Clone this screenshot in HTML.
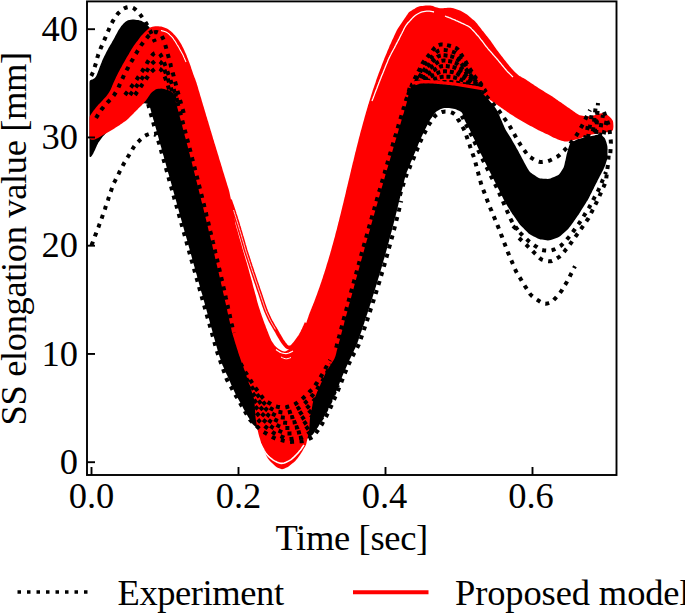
<!DOCTYPE html>
<html><head><meta charset="utf-8"><style>
html,body{margin:0;padding:0;background:#fff;}
body{width:685px;height:613px;overflow:hidden;}
svg{display:block;}
text{font-family:"Liberation Serif",serif;fill:#000;}
</style></head><body>
<svg width="685" height="613" viewBox="0 0 685 613">
<defs><clipPath id="pc"><rect x="87" y="1.4" width="529.5" height="473.6"/></clipPath></defs>
<g clip-path="url(#pc)">
<path d="M90.0,80.5L91.1,79.8 92.4,79.4 93.7,78.8 94.8,77.9 95.8,76.8 96.5,75.5 97.1,74.1 97.6,72.7 98.1,71.3 98.7,69.9 99.2,68.5 99.7,67.1 100.3,65.7 100.8,64.3 101.4,62.9 101.9,61.5 102.5,60.1 103.1,58.8 103.7,57.4 104.4,56.1 105.1,54.7 105.7,53.4 106.4,52.0 107.1,50.7 107.8,49.4 108.5,48.1 109.3,46.8 110.0,45.5 110.8,44.2 111.6,42.9 112.3,41.6 113.1,40.3 113.8,39.0 114.5,37.7 115.2,36.3 115.9,35.0 116.6,33.7 117.3,32.4 118.0,31.1 118.8,29.8 119.7,28.5 120.5,27.3 121.3,26.1 122.3,24.9 123.3,23.8 124.4,22.8 125.5,21.8 126.7,20.9 128.0,20.3 129.4,19.9 130.9,19.7 132.4,19.6 133.9,19.6 135.4,19.7 136.9,19.9 138.3,20.1 139.8,20.4 141.2,20.8 142.5,21.5 143.8,22.2 145.1,23.0 146.2,23.9 147.3,25.0 148.3,26.1 149.3,27.2 150.3,28.3 151.2,29.5 152.0,30.8 152.7,32.1 153.4,33.4 154.1,34.8 154.8,36.1 155.5,37.4 156.2,38.7 156.9,40.1 157.6,41.4 158.2,42.8 158.8,44.2 159.3,45.6 159.8,47.0 160.3,48.4 160.8,49.8 161.3,51.2 161.8,52.6 162.3,54.0 162.8,55.5 163.3,56.9 163.8,58.3 164.3,59.7 164.8,61.1 165.3,62.5 165.8,63.9 166.3,65.4 166.8,66.8 167.4,68.2 167.9,69.6 168.5,71.0 169.1,72.3 169.7,73.7 170.3,75.1 170.9,76.4 171.5,77.8 172.2,79.2 172.8,80.5 173.4,81.9 174.0,83.3 174.6,84.6 175.3,86.0 175.9,87.4 176.5,88.7 177.1,90.1 177.7,91.5 178.3,92.8 178.9,94.2 179.5,95.6 180.0,97.0 180.6,98.4 181.1,99.8 181.7,101.2 182.3,102.6 182.8,104.0 183.4,105.4 183.9,106.8 184.4,108.2 184.9,109.6 185.3,111.1 185.7,112.5 186.0,114.0 186.4,115.4 186.8,116.9 187.2,118.3 187.6,119.8 188.0,121.2 188.4,122.7 188.7,124.1 189.1,125.6 189.5,127.0 189.9,128.5 190.3,129.9 190.7,131.4 191.0,132.8 191.4,134.3 191.8,135.7 192.2,137.2 192.6,138.6 192.9,140.1 193.3,141.5 193.7,143.0 194.1,144.4 194.5,145.9 194.8,147.3 195.2,148.8 195.6,150.2 196.0,151.7 196.3,153.1 196.7,154.6 197.1,156.0 197.5,157.5 197.8,158.9 198.2,160.4 198.6,161.9 199.0,163.3 199.3,164.8 199.7,166.2 200.1,167.7 200.5,169.1 200.8,170.6 201.2,172.0 201.6,173.5 201.9,174.9 202.3,176.4 202.7,177.8 203.0,179.3 203.4,180.8 203.8,182.2 204.1,183.7 204.5,185.1 204.9,186.6 205.2,188.0 205.6,189.5 206.0,190.9 206.3,192.4 206.7,193.9 207.0,195.3 207.4,196.8 207.8,198.2 208.1,199.7 208.5,201.1 208.9,202.6 209.2,204.1 209.6,205.5 209.9,207.0 210.3,208.4 210.6,209.9 211.0,211.3 211.4,212.8 211.7,214.2 212.1,215.7 212.4,217.2 212.8,218.6 213.1,220.1 213.5,221.5 213.8,223.0 214.2,224.5 214.6,225.9 214.9,227.4 215.3,228.8 215.6,230.3 216.0,231.7 216.3,233.2 216.7,234.7 217.0,236.1 217.4,237.6 217.7,239.0 218.1,240.5 218.4,242.0 218.8,243.4 219.1,244.9 219.5,246.3 219.8,247.8 220.1,249.3 220.5,250.7 220.8,252.2 221.2,253.6 221.5,255.1 221.9,256.6 222.2,258.0 222.6,259.5 222.9,260.9 223.2,262.4 223.6,263.9 223.9,265.3 224.3,266.8 224.6,268.3 224.9,269.7 225.3,271.2 225.6,272.6 226.0,274.1 226.3,275.6 226.6,277.0 227.0,278.5 227.3,279.9 227.6,281.4 228.0,282.9 228.3,284.3 228.6,285.8 229.0,287.3 229.3,288.7 229.6,290.2 230.0,291.7 230.3,293.1 230.6,294.6 231.0,296.0 231.3,297.5 231.6,299.0 232.0,300.4 232.3,301.9 232.6,303.4 232.9,304.8 233.3,306.3 233.6,307.8 233.9,309.2 234.2,310.7 234.6,312.1 234.9,313.6 235.2,315.1 235.5,316.5 235.9,318.0 236.2,319.5 236.5,320.9 236.8,322.4 237.2,323.9 237.5,325.3 237.8,326.8 238.1,328.3 238.4,329.7 238.8,331.2 239.1,332.7 239.5,334.1 240.0,335.5 240.4,337.0 240.9,338.4 241.3,339.8 241.8,341.2 242.3,342.7 242.8,344.1 243.4,345.4 244.1,346.8 244.8,348.1 245.6,349.3 246.4,350.6 247.1,351.9 247.9,353.2 248.7,354.5 249.5,355.8 250.2,357.1 251.0,358.3 251.8,359.6 252.6,360.9 253.3,362.2 254.1,363.5 255.0,364.7 256.0,365.8 257.1,366.8 258.2,367.8 259.3,368.8 260.5,369.7 261.6,370.7 262.7,371.7 263.9,372.7 265.0,373.7 266.1,374.7 267.3,375.6 268.4,376.6 269.6,377.5 270.9,378.2 272.3,378.8 273.7,379.4 275.1,379.9 276.5,380.4 277.9,381.0 279.3,381.5 280.7,382.0 282.1,382.5 283.5,383.0 284.9,383.5 286.3,383.6 287.7,383.3 289.1,382.8 290.5,382.3 291.9,381.8 293.3,381.3 294.7,380.7 296.1,380.2 297.5,379.7 298.9,379.1 300.3,378.6 301.7,378.0 302.9,377.1 304.1,376.2 305.2,375.2 306.4,374.3 307.5,373.3 308.6,372.3 309.8,371.3 310.9,370.4 312.1,369.4 313.2,368.4 314.3,367.4 315.4,366.4 316.4,365.3 317.2,364.0 318.0,362.8 318.8,361.5 319.6,360.2 320.4,359.0 321.2,357.7 322.0,356.4 322.8,355.1 323.6,353.9 324.4,352.6 325.2,351.3 325.9,350.0 326.6,348.7 327.3,347.4 327.9,346.0 328.6,344.6 329.2,343.3 329.7,341.9 330.1,340.4 330.5,339.0 330.8,337.5 331.2,336.1 331.6,334.6 332.0,333.2 332.4,331.7 332.8,330.3 333.2,328.8 333.6,327.4 333.9,325.9 334.3,324.5 334.7,323.0 335.1,321.6 335.5,320.1 335.9,318.7 336.3,317.2 336.7,315.8 337.0,314.3 337.4,312.9 337.8,311.4 338.2,310.0 338.6,308.5 339.0,307.1 339.4,305.6 339.8,304.2 340.2,302.7 340.6,301.3 341.0,299.8 341.4,298.4 341.7,296.9 342.1,295.5 342.5,294.1 342.9,292.6 343.3,291.2 343.7,289.7 344.1,288.3 344.5,286.8 344.9,285.4 345.3,283.9 345.7,282.5 346.1,281.0 346.5,279.6 346.9,278.1 347.3,276.7 347.7,275.2 348.1,273.8 348.5,272.3 348.9,270.9 349.3,269.5 349.7,268.0 350.1,266.6 350.5,265.1 350.9,263.7 351.3,262.2 351.7,260.8 352.1,259.3 352.5,257.9 352.9,256.4 353.3,255.0 353.7,253.5 354.1,252.1 354.5,250.7 354.9,249.2 355.3,247.8 355.7,246.3 356.1,244.9 356.5,243.4 356.9,242.0 357.3,240.5 357.7,239.1 358.1,237.6 358.5,236.2 358.9,234.8 359.3,233.3 359.7,231.9 360.1,230.4 360.6,229.0 361.0,227.5 361.4,226.1 361.8,224.6 362.2,223.2 362.6,221.8 363.0,220.3 363.4,218.9 363.8,217.4 364.2,216.0 364.6,214.5 365.0,213.1 365.5,211.7 365.9,210.2 366.3,208.8 366.7,207.3 367.1,205.9 367.5,204.4 367.9,203.0 368.3,201.6 368.7,200.1 369.2,198.7 369.6,197.2 370.0,195.8 370.4,194.3 370.8,192.9 371.2,191.5 371.6,190.0 372.1,188.6 372.5,187.1 372.9,185.7 373.3,184.2 373.7,182.8 374.1,181.4 374.5,179.9 375.0,178.5 375.4,177.0 375.8,175.6 376.2,174.2 376.6,172.7 377.1,171.3 377.5,169.8 377.9,168.4 378.3,167.0 378.7,165.5 379.1,164.1 379.6,162.6 380.0,161.2 380.4,159.7 380.8,158.3 381.2,156.9 381.7,155.4 382.1,154.0 382.5,152.5 382.9,151.1 383.4,149.7 383.8,148.2 384.2,146.8 384.6,145.3 385.0,143.9 385.5,142.5 385.9,141.0 386.3,139.6 386.7,138.2 387.2,136.7 387.6,135.3 388.0,133.8 388.4,132.4 388.9,131.0 389.3,129.5 389.7,128.1 390.2,126.6 390.6,125.2 391.0,123.8 391.4,122.3 391.9,120.9 392.3,119.4 392.7,118.0 393.1,116.6 393.6,115.1 394.0,113.7 394.4,112.3 394.9,110.8 395.3,109.4 395.7,107.9 396.2,106.5 396.6,105.1 397.0,103.6 397.4,102.2 397.9,100.8 398.3,99.3 398.7,97.9 399.2,96.5 399.6,95.0 400.0,93.6 400.5,92.1 400.9,90.7 401.4,89.3 401.9,87.9 402.5,86.5 403.2,85.2 403.9,83.9 404.6,82.6 405.4,81.3 406.4,80.3 407.6,79.8 409.1,79.5 410.5,79.2 412.0,78.9 413.5,78.6 414.8,78.2 415.8,77.3 416.5,76.1 417.0,74.8 417.5,73.4 418.1,72.0 418.6,70.6 419.1,69.1 419.6,67.7 420.1,66.3 420.7,64.9 421.2,63.5 421.8,62.2 422.4,60.8 423.0,59.4 423.6,58.0 424.2,56.7 424.8,55.3 425.5,53.9 426.2,52.6 427.1,51.5 428.1,50.4 429.1,49.3 430.2,48.3 431.3,47.3 432.6,46.5 433.9,46.0 435.4,45.5 436.8,45.1 438.2,44.8 439.7,44.7 441.1,44.9 442.6,45.2 444.1,45.6 445.5,45.9 447.0,46.3 448.3,46.8 449.7,47.5 451.0,48.3 452.2,49.0 453.5,49.8 454.8,50.6 456.1,51.4 457.3,52.3 458.3,53.3 459.2,54.5 460.1,55.7 461.0,56.9 461.9,58.1 462.8,59.3 463.7,60.5 464.6,61.7 465.5,62.9 466.3,64.2 467.2,65.4 467.9,66.7 468.7,68.0 469.4,69.3 470.1,70.6 470.8,72.0 471.6,73.3 472.3,74.6 473.0,75.9 473.7,77.2 474.4,78.5 475.2,79.8 475.9,81.2 476.6,82.5 477.4,83.8 478.1,85.1 478.8,86.4 479.6,87.7 480.3,89.0 481.1,90.3 481.9,91.6 482.7,92.8 483.7,93.9 484.6,95.1 485.6,96.2 486.6,97.4 487.6,98.5 488.6,99.6 489.5,100.8 490.5,101.9 491.5,103.1 492.5,104.2 493.4,105.4 494.4,106.5 495.3,107.7 496.2,108.9 496.9,110.2 497.6,111.5 498.2,112.9 498.8,114.3 499.4,115.6 500.0,117.0 500.6,118.4 501.2,119.8 501.8,121.1 502.4,122.5 503.0,123.9 503.6,125.3 504.2,126.7 504.8,128.0 505.5,129.4 506.2,130.7 507.0,131.9 507.8,133.2 508.6,134.5 509.4,135.8 510.2,137.0 511.0,138.3 511.7,139.6 512.5,140.9 513.2,142.2 514.0,143.5 514.7,144.8 515.5,146.1 516.2,147.4 516.9,148.7 517.7,150.0 518.4,151.3 519.1,152.7 519.8,154.0 520.5,155.3 521.2,156.6 521.9,158.0 522.6,159.3 523.3,160.6 524.0,162.0 524.7,163.3 525.4,164.6 526.2,165.9 526.9,167.2 527.6,168.5 528.4,169.8 529.2,171.1 530.2,172.2 531.3,173.1 532.5,173.9 533.8,174.8 535.0,175.6 536.3,176.4 537.5,177.2 538.8,177.9 540.2,178.4 541.7,178.6 543.1,178.7 544.6,178.8 546.1,178.8 547.6,178.9 549.1,178.8 550.5,178.4 551.9,177.8 553.3,177.3 554.7,176.7 556.1,176.1 557.4,175.5 558.7,174.8 559.6,173.7 560.5,172.5 561.3,171.2 562.1,170.0 562.9,168.7 563.6,167.4 564.1,166.0 564.5,164.6 564.8,163.1 565.1,161.6 565.5,160.2 565.8,158.7 566.1,157.2 566.4,155.8 566.7,154.3 567.1,152.9 567.5,151.4 567.9,150.0 568.3,148.5 568.8,147.1 569.2,145.7 569.7,144.3 570.5,143.1 571.6,142.3 572.9,141.6 574.2,140.9 575.6,140.2 576.9,139.6 578.3,139.1 579.8,138.7 581.2,138.3 582.7,138.0 584.2,137.7 585.6,137.4 587.1,137.1 588.6,136.8 590.0,136.5 591.5,136.1 592.9,135.8 594.4,135.4 595.8,135.0 597.3,134.7 598.7,134.5 600.1,134.6 601.3,135.1 602.5,136.0 603.6,137.0 604.6,138.1 605.3,139.3 605.8,140.7 606.3,142.1 606.7,143.6 607.1,145.0 607.4,146.5 607.5,147.9 607.5,149.4 607.5,150.9 607.5,152.4 607.5,153.9 607.5,155.4 607.4,156.9 607.2,158.4 606.9,159.9 606.5,161.3 606.0,162.7 605.6,164.2 605.1,165.6 604.5,167.0 603.9,168.3 603.3,169.7 602.6,171.0 601.9,172.3 601.2,173.7 600.5,175.0 599.8,176.3 599.1,177.7 598.4,179.0 597.7,180.3 597.1,181.7 596.4,183.0 595.7,184.3 595.0,185.7 594.3,187.0 593.7,188.4 593.0,189.7 592.3,191.0 591.7,192.4 591.0,193.7 590.3,195.1 589.6,196.4 589.0,197.8 588.3,199.1 587.5,200.4 586.7,201.6 585.9,202.9 585.1,204.2 584.3,205.5 583.5,206.7 582.7,208.0 581.9,209.3 581.1,210.6 580.4,211.8 579.6,213.1 578.7,214.4 577.9,215.6 577.0,216.8 576.2,218.1 575.3,219.3 574.4,220.5 573.6,221.7 572.7,222.9 571.8,224.2 570.9,225.4 570.1,226.6 569.1,227.8 568.2,228.9 567.1,229.9 566.0,230.9 564.9,231.9 563.7,233.0 562.6,234.0 561.5,235.0 560.4,235.9 559.2,236.8 557.9,237.5 556.5,238.1 555.1,238.6 553.7,239.1 552.3,239.5 550.8,240.0 549.4,240.3 547.9,240.4 546.5,240.2 545.0,240.0 543.5,239.8 542.0,239.6 540.5,239.4 539.1,239.0 537.7,238.4 536.4,237.8 535.0,237.1 533.7,236.4 532.4,235.8 531.0,235.1 529.8,234.3 528.6,233.4 527.5,232.3 526.5,231.3 525.4,230.2 524.4,229.2 523.3,228.1 522.2,227.0 521.2,226.0 520.2,224.9 519.2,223.7 518.3,222.5 517.5,221.3 516.6,220.0 515.8,218.8 514.9,217.6 514.0,216.3 513.2,215.1 512.3,213.9 511.5,212.6 510.7,211.4 509.9,210.1 509.1,208.8 508.3,207.5 507.5,206.3 506.8,205.0 506.0,203.7 505.2,202.4 504.5,201.1 503.8,199.7 503.2,198.4 502.5,197.1 501.8,195.7 501.2,194.4 500.5,193.0 499.8,191.7 499.2,190.3 498.5,189.0 497.8,187.7 497.1,186.3 496.5,185.0 495.8,183.6 495.1,182.3 494.4,181.0 493.8,179.6 493.1,178.3 492.4,176.9 491.7,175.6 491.1,174.3 490.4,172.9 489.7,171.6 489.0,170.2 488.4,168.9 487.7,167.6 487.0,166.2 486.4,164.9 485.7,163.5 485.0,162.2 484.4,160.8 483.7,159.5 483.0,158.1 482.4,156.8 481.7,155.4 481.0,154.1 480.4,152.8 479.7,151.4 479.1,150.1 478.5,148.7 477.8,147.3 477.2,146.0 476.6,144.6 476.0,143.2 475.4,141.8 474.8,140.5 474.2,139.1 473.5,137.7 472.9,136.4 472.3,135.0 471.7,133.6 471.0,132.3 470.3,131.0 469.6,129.6 468.9,128.3 468.2,127.0 467.5,125.7 466.8,124.3 466.1,123.0 465.4,121.7 464.7,120.3 464.1,119.0 463.6,117.6 463.2,116.1 462.8,114.7 462.3,113.3 461.5,112.2 460.4,111.4 459.1,110.7 457.7,110.2 456.3,109.6 454.9,109.1 453.4,108.8 452.0,108.5 450.5,108.3 449.0,108.1 447.5,108.0 446.0,108.0 444.5,108.0 443.1,108.2 441.7,108.7 440.3,109.3 439.0,110.0 437.7,110.7 436.4,111.5 435.4,112.5 434.5,113.7 433.6,114.9 432.7,116.2 431.9,117.4 431.0,118.6 430.2,119.8 429.4,121.1 428.6,122.4 427.9,123.7 427.3,125.1 426.6,126.4 426.0,127.8 425.3,129.1 424.6,130.5 424.0,131.8 423.3,133.2 422.7,134.5 422.0,135.9 421.4,137.2 420.8,138.6 420.2,140.0 419.6,141.4 419.0,142.8 418.4,144.1 417.9,145.5 417.3,146.9 416.7,148.3 416.1,149.7 415.6,151.1 415.0,152.4 414.4,153.8 413.8,155.2 413.2,156.6 412.7,158.0 412.1,159.4 411.5,160.8 410.9,162.1 410.4,163.5 409.8,164.9 409.2,166.3 408.6,167.7 408.1,169.1 407.5,170.5 406.9,171.8 406.4,173.2 405.9,174.7 405.5,176.1 405.1,177.5 404.7,179.0 404.3,180.5 404.0,181.9 403.6,183.4 403.2,184.8 402.9,186.3 402.5,187.7 402.1,189.2 401.7,190.6 401.4,192.1 401.0,193.5 400.6,195.0 400.3,196.4 399.9,197.9 399.6,199.4 399.2,200.8 398.9,202.3 398.5,203.7 398.2,205.2 397.8,206.7 397.5,208.1 397.1,209.6 396.8,211.0 396.4,212.5 396.0,213.9 395.7,215.4 395.3,216.9 394.9,218.3 394.6,219.8 394.2,221.2 393.8,222.7 393.5,224.1 393.1,225.6 392.7,227.0 392.3,228.5 391.9,229.9 391.6,231.4 391.2,232.8 390.8,234.3 390.4,235.7 390.0,237.2 389.6,238.6 389.3,240.1 388.9,241.5 388.5,243.0 388.1,244.4 387.7,245.9 387.3,247.3 386.9,248.8 386.5,250.2 386.1,251.7 385.7,253.1 385.3,254.6 384.9,256.0 384.5,257.4 384.0,258.9 383.6,260.3 383.2,261.8 382.8,263.2 382.4,264.7 382.0,266.1 381.6,267.5 381.1,269.0 380.7,270.4 380.3,271.9 379.9,273.3 379.4,274.7 379.0,276.2 378.6,277.6 378.1,279.0 377.7,280.5 377.3,281.9 376.9,283.4 376.4,284.8 376.0,286.2 375.5,287.7 375.1,289.1 374.7,290.5 374.2,292.0 373.8,293.4 373.3,294.8 372.9,296.3 372.4,297.7 372.0,299.1 371.5,300.6 371.1,302.0 370.6,303.4 370.1,304.8 369.7,306.3 369.2,307.7 368.8,309.1 368.3,310.6 367.8,312.0 367.4,313.4 366.9,314.8 366.4,316.3 366.0,317.7 365.5,319.1 365.0,320.5 364.5,322.0 364.1,323.4 363.6,324.8 363.1,326.2 362.6,327.6 362.2,329.1 361.7,330.5 361.2,331.9 360.7,333.3 360.2,334.7 359.7,336.2 359.2,337.6 358.7,339.0 358.3,340.4 357.8,341.8 357.3,343.3 356.7,344.7 356.2,346.0 355.5,347.4 354.9,348.8 354.2,350.1 353.6,351.5 352.9,352.8 352.3,354.2 351.7,355.5 351.0,356.9 350.4,358.2 349.7,359.6 349.1,361.0 348.5,362.3 347.9,363.7 347.2,365.1 346.6,366.4 346.0,367.8 345.4,369.2 344.8,370.5 344.2,371.9 343.6,373.3 343.0,374.7 342.4,376.1 341.9,377.4 341.3,378.8 340.8,380.2 340.2,381.6 339.6,383.0 339.1,384.4 338.5,385.8 337.9,387.2 337.4,388.6 336.8,390.0 336.2,391.4 335.7,392.7 335.0,394.1 334.4,395.5 333.8,396.8 333.2,398.2 332.6,399.6 332.0,400.9 331.3,402.3 330.7,403.7 330.1,405.0 329.5,406.4 328.8,407.8 328.2,409.1 327.5,410.4 326.8,411.8 326.0,413.1 325.3,414.4 324.6,415.7 323.9,417.0 323.1,418.3 322.4,419.6 321.7,420.9 321.0,422.3 320.2,423.6 319.4,424.8 318.6,426.1 317.8,427.3 316.9,428.6 316.1,429.8 315.3,431.1 314.4,432.3 313.6,433.5 312.6,434.7 311.5,435.6 310.3,436.5 309.0,437.3 307.8,438.2 306.5,439.0 305.2,439.7 303.8,440.2 302.4,440.5 300.9,440.8 299.4,441.1 298.0,441.4 296.5,441.7 295.0,441.9 293.5,442.0 292.0,442.0 290.5,442.0 289.0,442.0 287.5,442.0 286.0,442.0 284.5,441.8 283.1,441.6 281.6,441.3 280.1,441.0 278.6,440.7 277.2,440.4 275.7,440.0 274.4,439.5 273.1,438.8 271.8,438.1 270.5,437.3 269.2,436.5 267.9,435.7 266.6,435.0 265.3,434.2 264.1,433.3 262.9,432.5 261.6,431.6 260.4,430.7 259.2,429.9 258.0,428.9 256.9,428.0 255.7,427.0 254.6,426.0 253.5,425.0 252.5,423.9 251.7,422.7 250.9,421.4 250.1,420.1 249.3,418.8 248.5,417.6 247.8,416.3 247.0,415.0 246.3,413.7 245.6,412.4 244.8,411.0 244.1,409.7 243.4,408.4 242.7,407.1 242.0,405.8 241.2,404.4 240.5,403.1 239.8,401.8 239.1,400.5 238.4,399.2 237.7,397.9 236.9,396.5 236.2,395.2 235.5,393.9 234.8,392.6 234.2,391.2 233.6,389.8 233.0,388.5 232.4,387.1 231.8,385.7 231.1,384.4 230.5,383.0 229.9,381.6 229.3,380.2 228.7,378.9 228.1,377.5 227.5,376.1 226.8,374.8 226.2,373.4 225.6,372.0 225.0,370.7 224.4,369.3 223.8,367.9 223.2,366.6 222.5,365.2 222.0,363.8 221.5,362.4 221.0,361.0 220.5,359.6 220.0,358.1 219.5,356.7 219.1,355.3 218.7,353.8 218.3,352.4 217.8,351.0 217.4,349.5 217.0,348.1 216.6,346.6 216.2,345.2 215.8,343.7 215.4,342.3 215.0,340.8 214.6,339.4 214.2,337.9 213.8,336.5 213.4,335.1 213.0,333.6 212.6,332.2 212.2,330.7 211.8,329.3 211.4,327.8 211.0,326.4 210.6,324.9 210.2,323.5 209.8,322.0 209.4,320.6 209.0,319.1 208.6,317.7 208.2,316.3 207.8,314.8 207.4,313.4 207.0,311.9 206.6,310.5 206.2,309.0 205.8,307.6 205.4,306.1 205.0,304.7 204.6,303.2 204.2,301.8 203.8,300.4 203.4,298.9 203.0,297.5 202.6,296.0 202.2,294.6 201.7,293.1 201.3,291.7 200.9,290.2 200.5,288.8 200.1,287.3 199.7,285.9 199.3,284.5 198.9,283.0 198.5,281.6 198.1,280.1 197.7,278.7 197.3,277.2 196.9,275.8 196.5,274.3 196.1,272.9 195.7,271.4 195.3,270.0 194.9,268.6 194.5,267.1 194.1,265.7 193.7,264.2 193.3,262.8 192.9,261.3 192.5,259.9 192.1,258.4 191.7,257.0 191.3,255.5 190.9,254.1 190.5,252.7 190.1,251.2 189.7,249.8 189.3,248.3 188.9,246.9 188.5,245.4 188.1,244.0 187.7,242.5 187.3,241.1 186.9,239.6 186.5,238.2 186.1,236.8 185.6,235.3 185.2,233.9 184.8,232.4 184.4,231.0 184.0,229.5 183.6,228.1 183.2,226.6 182.8,225.2 182.4,223.7 182.0,222.3 181.6,220.9 181.2,219.4 180.8,218.0 180.4,216.5 180.0,215.1 179.6,213.6 179.2,212.2 178.8,210.7 178.4,209.3 178.0,207.8 177.6,206.4 177.2,205.0 176.8,203.5 176.4,202.1 176.0,200.6 175.6,199.2 175.2,197.7 174.8,196.3 174.4,194.8 174.0,193.4 173.6,191.9 173.2,190.5 172.8,189.1 172.4,187.6 172.0,186.2 171.6,184.7 171.2,183.3 170.8,181.8 170.4,180.4 170.0,178.9 169.5,177.5 169.1,176.0 168.7,174.6 168.3,173.2 167.9,171.7 167.5,170.3 167.1,168.8 166.7,167.4 166.3,165.9 165.9,164.5 165.5,163.0 165.1,161.6 164.7,160.1 164.3,158.7 163.9,157.3 163.5,155.8 163.1,154.4 162.7,152.9 162.3,151.5 161.9,150.0 161.5,148.6 161.1,147.1 160.7,145.7 160.3,144.2 159.9,142.8 159.5,141.4 159.1,139.9 158.7,138.5 158.3,137.0 157.9,135.6 157.5,134.1 157.1,132.7 156.7,131.2 156.3,129.8 155.9,128.3 155.5,126.9 155.1,125.5 154.7,124.0 154.3,122.6 153.9,121.1 153.4,119.7 153.0,118.2 152.6,116.8 152.2,115.3 151.8,113.9 151.4,112.4 151.0,111.0 150.6,109.6 150.2,108.1 149.8,106.7 149.3,105.4 148.5,104.3 147.3,103.8 145.9,103.5 144.4,103.3 143.0,103.4 141.7,103.9 140.4,104.6 139.1,105.4 137.9,106.2 136.6,107.0 135.3,107.9 134.1,108.7 132.9,109.7 131.8,110.6 130.6,111.5 129.4,112.5 128.3,113.4 127.1,114.3 125.9,115.3 124.7,116.2 123.6,117.1 122.4,118.1 121.2,119.0 120.1,120.0 118.9,120.9 117.7,121.8 116.5,122.8 115.4,123.7 114.3,124.8 113.2,125.8 112.1,126.9 111.1,127.9 110.0,129.0 109.0,130.0 107.9,131.1 106.9,132.2 105.8,133.3 104.8,134.4 103.8,135.5 102.8,136.6 101.9,137.8 101.0,139.0 100.1,140.2 99.2,141.4 98.4,142.6 97.7,143.9 97.0,145.3 96.4,146.7 95.8,148.1 95.2,149.4 94.6,150.8 93.9,152.1 93.3,153.5 92.5,154.8 91.7,156.0 90.7,156.9 89.9,157.1 89.6,156.4 89.5,155.0 89.5,153.5 89.5,152.0 89.5,150.5 89.5,149.0 89.5,147.5 89.5,146.0 89.5,144.5 89.5,143.0 89.5,141.5 89.5,140.0 89.5,138.5 89.5,137.0 89.5,135.5 89.5,134.0 89.5,132.5 89.5,131.0 89.5,129.5 89.5,128.0 89.5,126.5 89.5,125.0 89.5,123.5 89.5,122.0 89.5,120.5 89.5,119.0 89.5,117.5 89.5,116.0 89.5,114.5 89.5,113.0 89.5,111.5 89.5,110.0 89.5,108.5 89.5,107.0 89.5,105.5 89.5,104.0 89.5,102.5 89.5,101.0 89.5,99.5 89.5,98.0 89.5,96.5 89.5,95.0 89.5,93.5 89.5,92.0 89.5,90.5 89.5,89.0 89.5,87.5 89.5,86.0 89.5,84.5 89.5,83.0 89.6,81.6Z" fill="#000"/>
<path d="M89.7,116.6L90.4,115.3 91.2,114.0 92.1,112.8 92.9,111.6 93.8,110.3 94.7,109.2 95.6,108.0 96.6,106.8 97.5,105.7 98.5,104.5 99.6,103.4 100.6,102.4 101.7,101.3 102.7,100.2 103.7,99.1 104.7,98.0 105.7,96.9 106.7,95.8 107.6,94.6 108.5,93.3 109.3,92.1 110.0,90.8 110.7,89.4 111.3,88.1 111.9,86.7 112.4,85.3 113.0,83.9 113.6,82.5 114.2,81.2 114.9,79.8 115.5,78.4 116.1,77.1 116.8,75.7 117.4,74.4 118.1,73.0 118.8,71.7 119.5,70.4 120.2,69.1 121.0,67.8 121.7,66.4 122.4,65.1 123.1,63.8 123.9,62.5 124.6,61.2 125.3,59.9 126.1,58.6 126.8,57.3 127.6,56.0 128.4,54.7 129.1,53.4 129.9,52.1 130.7,50.8 131.4,49.5 132.2,48.3 133.0,47.0 133.8,45.7 134.7,44.5 135.6,43.3 136.5,42.1 137.4,40.9 138.3,39.7 139.2,38.5 140.1,37.3 141.0,36.1 142.0,35.0 143.0,33.9 144.1,32.8 145.1,31.8 146.2,30.7 147.3,29.7 148.4,28.7 149.6,27.8 150.9,27.2 152.4,26.8 153.8,26.5 155.3,26.3 156.8,26.3 158.3,26.3 159.8,26.4 161.3,26.6 162.7,26.9 164.2,27.4 165.5,27.9 166.9,28.6 168.2,29.3 169.4,30.2 170.6,31.1 171.7,32.1 172.8,33.1 173.8,34.2 174.9,35.3 175.9,36.4 176.8,37.6 177.7,38.8 178.6,40.0 179.4,41.2 180.2,42.5 181.0,43.8 181.7,45.1 182.4,46.5 183.1,47.8 183.7,49.1 184.4,50.5 185.0,51.9 185.6,53.2 186.2,54.6 186.8,56.0 187.3,57.4 187.9,58.8 188.4,60.2 188.9,61.6 189.5,63.0 190.0,64.4 190.5,65.8 191.0,67.2 191.4,68.7 191.9,70.1 192.4,71.5 192.9,72.9 193.3,74.3 193.9,75.8 194.4,77.2 195.0,78.6 195.5,80.0 196.0,81.4 196.5,82.8 196.9,84.2 197.4,85.7 197.8,87.1 198.2,88.5 198.6,90.0 199.1,91.4 199.5,92.8 199.9,94.3 200.3,95.7 200.8,97.2 201.2,98.6 201.6,100.0 202.0,101.5 202.5,102.9 202.9,104.4 203.3,105.8 203.8,107.2 204.2,108.7 204.6,110.1 205.0,111.5 205.5,113.0 205.9,114.4 206.3,115.9 206.8,117.3 207.2,118.7 207.6,120.2 208.1,121.6 208.5,123.0 208.9,124.5 209.4,125.9 209.8,127.4 210.2,128.8 210.6,130.2 211.1,131.7 211.5,133.1 211.9,134.5 212.4,136.0 212.8,137.4 213.2,138.9 213.7,140.3 214.1,141.7 214.5,143.2 215.0,144.6 215.4,146.0 215.9,147.5 216.3,148.9 216.7,150.3 217.2,151.8 217.6,153.2 218.0,154.6 218.5,156.1 218.9,157.5 219.3,159.0 219.8,160.4 220.2,161.8 220.7,163.3 221.1,164.7 221.5,166.1 222.0,167.6 222.4,169.0 222.8,170.4 223.3,171.9 223.7,173.3 224.2,174.7 224.6,176.2 225.0,177.6 225.5,179.0 225.9,180.5 226.4,181.9 226.8,183.3 227.2,184.8 227.7,186.2 228.1,187.6 228.6,189.1 229.0,190.5 229.4,192.0 229.7,193.4 230.0,194.9 230.3,196.4 230.6,197.8 230.9,199.3 231.2,200.8 231.5,202.2 231.8,203.7 232.1,205.2 232.4,206.7 232.7,208.1 233.0,209.6 233.3,211.1 233.6,212.5 233.8,214.0 234.1,215.5 234.3,217.0 234.6,218.5 234.8,219.9 235.1,221.4 235.3,222.9 235.6,224.4 236.0,225.8 236.4,227.3 236.8,228.7 237.3,230.1 237.7,231.6 238.1,233.0 238.5,234.5 238.9,235.9 239.3,237.4 239.7,238.8 240.1,240.2 240.6,241.7 241.0,243.1 241.4,244.6 241.8,246.0 242.2,247.5 242.6,248.9 243.0,250.3 243.4,251.8 243.9,253.2 244.3,254.7 244.7,256.1 245.2,257.5 245.6,259.0 246.0,260.4 246.5,261.9 246.9,263.3 247.3,264.7 247.7,266.2 248.1,267.6 248.5,269.1 248.9,270.5 249.3,272.0 249.7,273.4 250.1,274.9 250.5,276.3 250.9,277.8 251.3,279.2 251.7,280.6 252.1,282.1 252.5,283.5 252.8,285.0 253.2,286.4 253.6,287.9 254.0,289.3 254.4,290.8 254.8,292.2 255.2,293.7 255.6,295.1 256.0,296.6 256.4,298.0 256.7,299.5 257.1,300.9 257.5,302.4 257.9,303.8 258.3,305.3 258.8,306.7 259.2,308.1 259.7,309.6 260.2,311.0 260.6,312.4 261.1,313.8 261.6,315.3 262.1,316.7 262.6,318.1 263.1,319.5 263.6,320.9 264.1,322.3 264.6,323.7 265.2,325.1 265.7,326.5 266.2,327.9 266.8,329.3 267.3,330.7 267.9,332.1 268.4,333.5 269.0,334.9 269.5,336.3 270.1,337.7 270.7,339.1 271.3,340.4 272.1,341.7 273.0,342.9 273.8,344.2 274.7,345.4 275.7,346.5 276.8,347.4 278.0,348.4 279.2,349.3 280.4,350.1 281.8,350.7 283.2,351.2 284.5,351.6 285.9,351.3 287.1,350.6 288.4,349.8 289.5,348.8 290.5,347.8 291.5,346.6 292.5,345.5 293.4,344.3 294.3,343.1 295.2,341.9 296.2,340.7 297.1,339.5 298.0,338.4 298.9,337.1 299.7,335.9 300.5,334.6 301.2,333.3 302.0,332.0 302.8,330.7 303.6,329.5 304.3,328.2 304.9,326.8 305.5,325.4 305.9,324.0 306.4,322.6 306.9,321.1 307.3,319.7 307.8,318.3 308.3,316.9 308.7,315.4 309.3,314.0 309.8,312.6 310.4,311.2 310.9,309.8 311.5,308.4 312.0,307.1 312.6,305.7 313.1,304.3 313.7,302.9 314.3,301.5 314.8,300.1 315.3,298.7 315.8,297.3 316.3,295.9 316.9,294.4 317.4,293.0 317.9,291.6 318.4,290.2 318.9,288.8 319.4,287.4 319.9,286.0 320.4,284.6 320.9,283.1 321.4,281.7 321.8,280.3 322.3,278.9 322.8,277.4 323.2,276.0 323.7,274.6 324.2,273.2 324.6,271.7 325.1,270.3 325.5,268.9 326.0,267.4 326.4,266.0 326.8,264.6 327.3,263.1 327.7,261.7 328.2,260.3 328.6,258.8 329.0,257.4 329.4,255.9 329.9,254.5 330.3,253.1 330.7,251.6 331.1,250.2 331.5,248.7 331.9,247.3 332.3,245.8 332.7,244.4 333.1,242.9 333.5,241.5 333.9,240.1 334.3,238.6 334.7,237.2 335.1,235.7 335.4,234.2 335.8,232.8 336.2,231.3 336.6,229.9 337.0,228.4 337.3,227.0 337.7,225.5 338.1,224.1 338.4,222.6 338.8,221.2 339.2,219.7 339.5,218.3 339.9,216.8 340.3,215.3 340.6,213.9 341.0,212.4 341.3,211.0 341.7,209.5 342.1,208.1 342.4,206.6 342.8,205.1 343.1,203.7 343.5,202.2 343.8,200.8 344.2,199.3 344.5,197.8 344.9,196.4 345.2,194.9 345.6,193.5 345.9,192.0 346.2,190.5 346.6,189.1 346.9,187.6 347.3,186.2 347.6,184.7 348.0,183.2 348.3,181.8 348.7,180.3 349.0,178.9 349.4,177.4 349.7,175.9 350.1,174.5 350.4,173.0 350.8,171.6 351.1,170.1 351.4,168.7 351.8,167.2 352.1,165.7 352.5,164.3 352.8,162.8 353.2,161.4 353.6,159.9 353.9,158.4 354.3,157.0 354.6,155.5 355.0,154.1 355.3,152.6 355.7,151.2 356.1,149.7 356.4,148.2 356.8,146.8 357.2,145.3 357.5,143.9 357.9,142.4 358.3,141.0 358.6,139.5 359.0,138.1 359.4,136.6 359.8,135.2 360.1,133.7 360.5,132.3 360.9,130.8 361.3,129.4 361.7,127.9 362.1,126.5 362.5,125.0 362.9,123.6 363.3,122.1 363.7,120.7 364.1,119.2 364.5,117.8 364.9,116.3 365.3,114.9 365.7,113.5 366.1,112.0 366.6,110.6 367.0,109.1 367.4,107.7 367.8,106.2 368.2,104.8 368.7,103.4 369.1,101.9 369.6,100.5 370.0,99.1 370.5,97.7 370.9,96.2 371.4,94.8 371.8,93.4 372.3,91.9 372.7,90.5 373.2,89.1 373.7,87.7 374.2,86.2 374.7,84.8 375.2,83.4 375.7,82.0 376.1,80.6 376.6,79.1 377.1,77.7 377.6,76.3 378.1,74.9 378.6,73.5 379.2,72.1 379.7,70.7 380.2,69.3 380.8,67.9 381.3,66.5 381.8,65.1 382.3,63.7 382.9,62.3 383.4,60.9 384.0,59.5 384.5,58.1 385.1,56.7 385.7,55.3 386.3,53.9 386.9,52.5 387.4,51.1 388.0,49.8 388.6,48.4 389.2,47.0 389.7,45.6 390.4,44.2 391.0,42.9 391.6,41.5 392.2,40.1 392.9,38.8 393.5,37.4 394.1,36.1 394.7,34.7 395.4,33.3 396.0,32.0 396.7,30.6 397.4,29.3 398.2,28.1 399.0,26.8 399.9,25.6 400.7,24.3 401.6,23.1 402.4,21.8 403.2,20.6 404.1,19.3 404.9,18.1 405.7,16.9 406.6,15.6 407.4,14.4 408.3,13.1 409.2,12.0 410.4,11.2 411.7,10.4 413.0,9.6 414.3,8.9 415.6,8.1 416.9,7.3 418.2,6.7 419.6,6.3 421.1,6.1 422.6,5.9 424.1,5.7 425.6,5.5 427.1,5.5 428.6,5.5 430.1,5.5 431.5,5.7 433.0,6.1 434.4,6.7 435.8,7.2 437.2,7.6 438.7,7.9 440.1,8.2 441.6,8.3 443.1,8.3 444.6,8.1 446.1,7.9 447.6,7.8 449.1,7.8 450.6,7.8 452.1,7.9 453.5,8.2 454.9,8.7 456.3,9.2 457.8,9.7 459.2,10.2 460.6,10.8 461.9,11.4 463.2,12.2 464.5,13.0 465.7,13.7 467.0,14.6 468.2,15.5 469.3,16.5 470.5,17.4 471.6,18.4 472.8,19.4 473.9,20.3 475.0,21.3 476.0,22.4 477.0,23.6 477.9,24.8 478.8,26.0 479.7,27.1 480.7,28.3 481.6,29.5 482.5,30.7 483.5,31.8 484.4,33.0 485.4,34.2 486.3,35.4 487.2,36.5 488.2,37.7 489.1,38.9 490.0,40.1 490.9,41.3 491.7,42.5 492.6,43.8 493.5,45.0 494.3,46.2 495.2,47.4 496.1,48.7 496.9,49.9 497.8,51.1 498.7,52.3 499.6,53.5 500.6,54.7 501.5,55.9 502.4,57.1 503.3,58.2 504.2,59.4 505.1,60.6 506.1,61.8 507.0,63.0 507.9,64.1 508.9,65.3 509.8,66.5 510.8,67.6 511.8,68.7 512.8,69.8 513.9,70.9 514.9,71.9 516.0,73.0 517.1,74.1 518.2,75.0 519.4,75.9 520.7,76.6 522.0,77.4 523.3,78.1 524.6,78.8 525.9,79.6 527.2,80.4 528.4,81.3 529.6,82.1 530.9,82.9 532.1,83.8 533.4,84.6 534.6,85.4 535.9,86.3 537.1,87.1 538.4,87.9 539.7,88.7 540.9,89.5 542.2,90.3 543.5,91.1 544.8,91.9 546.0,92.7 547.3,93.5 548.6,94.3 549.9,95.1 551.1,95.8 552.4,96.6 553.7,97.5 554.9,98.3 556.1,99.2 557.4,100.0 558.6,100.9 559.8,101.7 561.1,102.6 562.3,103.5 563.5,104.3 564.8,105.2 566.0,106.0 567.2,106.9 568.5,107.7 569.7,108.6 570.9,109.4 572.1,110.3 573.4,111.2 574.6,112.0 575.8,112.9 577.1,113.7 578.3,114.5 579.7,115.2 581.1,115.6 582.6,115.8 584.0,116.1 585.5,116.3 587.0,116.4 588.5,116.3 590.0,116.2 591.5,116.0 592.9,115.7 594.4,115.2 595.8,114.7 597.2,114.3 598.6,113.9 600.1,113.5 601.6,113.2 603.0,113.0 604.4,113.1 605.6,113.7 606.9,114.6 608.1,115.4 609.3,116.4 610.3,117.5 611.3,118.6 612.2,119.7 612.9,121.0 613.2,122.4 613.3,123.9 613.4,125.4 613.4,126.9 613.2,128.4 613.0,129.8 612.3,130.8 611.1,131.4 609.7,131.7 608.2,132.0 606.7,132.3 605.3,132.5 603.8,132.7 602.3,132.8 600.8,133.0 599.3,133.2 597.8,133.4 596.3,133.7 594.9,134.0 593.4,134.2 591.9,134.5 590.5,134.9 589.0,135.3 587.6,135.6 586.1,136.0 584.7,136.5 583.3,137.1 581.9,137.7 580.5,138.2 579.1,138.7 577.7,139.1 576.2,139.4 574.8,139.8 573.3,140.2 571.8,140.5 570.4,140.9 568.9,141.2 567.5,141.4 566.0,141.4 564.5,141.4 563.0,141.1 561.6,140.7 560.2,140.2 558.7,139.7 557.3,139.2 556.0,138.6 554.6,138.1 553.2,137.4 551.9,136.8 550.6,136.0 549.2,135.3 547.9,134.6 546.5,134.0 545.2,133.4 543.8,132.7 542.5,132.1 541.1,131.5 539.7,130.8 538.4,130.2 537.1,129.5 535.8,128.7 534.4,128.0 533.1,127.3 531.8,126.6 530.5,125.9 529.1,125.2 527.8,124.5 526.5,123.8 525.2,123.0 523.9,122.3 522.6,121.5 521.3,120.8 520.0,120.1 518.7,119.3 517.4,118.5 516.2,117.7 514.9,116.9 513.6,116.1 512.4,115.3 511.1,114.5 509.8,113.7 508.6,112.8 507.3,112.0 506.1,111.1 504.9,110.3 503.7,109.4 502.4,108.5 501.2,107.7 500.0,106.8 498.7,106.0 497.5,105.1 496.3,104.3 495.0,103.4 493.8,102.5 492.6,101.7 491.4,100.8 490.1,99.9 488.9,99.0 487.8,98.1 486.7,97.1 485.5,96.1 484.4,95.2 483.3,94.1 482.3,93.0 481.5,91.7 480.7,90.5 479.8,89.2 479.1,87.9 478.6,86.5 478.2,85.2 477.4,84.3 476.1,84.0 474.6,84.0 473.1,84.0 471.6,84.0 470.1,84.0 468.6,84.0 467.1,84.0 465.6,84.0 464.1,83.9 462.6,83.8 461.1,83.6 459.6,83.5 458.1,83.3 456.6,83.2 455.2,83.0 453.7,82.9 452.2,82.7 450.7,82.6 449.2,82.5 447.7,82.5 446.2,82.5 444.7,82.5 443.2,82.5 441.7,82.5 440.2,82.5 438.7,82.5 437.2,82.5 435.7,82.5 434.2,82.6 432.7,82.7 431.2,82.9 429.7,83.0 428.2,83.2 426.7,83.3 425.2,83.5 423.7,83.6 422.2,83.8 420.7,84.0 419.3,84.2 417.8,84.5 416.4,84.9 414.9,85.3 413.5,85.7 412.2,86.3 411.4,87.4 410.8,88.8 410.3,90.2 409.7,91.5 409.1,92.9 408.7,94.4 408.3,95.8 408.0,97.3 407.6,98.7 407.3,100.2 407.0,101.7 406.6,103.1 406.2,104.6 405.8,106.0 405.4,107.4 404.9,108.9 404.5,110.3 404.1,111.8 403.7,113.2 403.2,114.6 402.8,116.1 402.4,117.5 401.9,118.9 401.5,120.4 401.1,121.8 400.7,123.3 400.2,124.7 399.8,126.1 399.4,127.6 398.9,129.0 398.5,130.5 398.1,131.9 397.7,133.3 397.2,134.8 396.8,136.2 396.4,137.7 396.0,139.1 395.5,140.5 395.1,142.0 394.7,143.4 394.3,144.8 393.8,146.3 393.4,147.7 393.0,149.2 392.6,150.6 392.2,152.0 391.7,153.5 391.3,154.9 390.9,156.4 390.5,157.8 390.1,159.2 389.6,160.7 389.2,162.1 388.8,163.6 388.4,165.0 388.0,166.5 387.5,167.9 387.1,169.3 386.7,170.8 386.3,172.2 385.9,173.7 385.4,175.1 385.0,176.5 384.6,178.0 384.2,179.4 383.8,180.9 383.4,182.3 382.9,183.7 382.5,185.2 382.1,186.6 381.7,188.1 381.3,189.5 380.9,191.0 380.5,192.4 380.0,193.8 379.6,195.3 379.2,196.7 378.8,198.2 378.4,199.6 378.0,201.1 377.6,202.5 377.2,203.9 376.7,205.4 376.3,206.8 375.9,208.3 375.5,209.7 375.1,211.2 374.7,212.6 374.3,214.0 373.9,215.5 373.5,216.9 373.1,218.4 372.6,219.8 372.2,221.3 371.8,222.7 371.4,224.1 371.0,225.6 370.6,227.0 370.2,228.5 369.8,229.9 369.4,231.4 369.0,232.8 368.6,234.3 368.2,235.7 367.8,237.1 367.4,238.6 366.9,240.0 366.5,241.5 366.1,242.9 365.7,244.4 365.3,245.8 364.9,247.3 364.5,248.7 364.1,250.2 363.7,251.6 363.3,253.0 362.9,254.5 362.5,255.9 362.1,257.4 361.7,258.8 361.3,260.3 360.9,261.7 360.5,263.2 360.1,264.6 359.7,266.1 359.3,267.5 358.9,269.0 358.5,270.4 358.1,271.8 357.7,273.3 357.3,274.7 356.9,276.2 356.5,277.6 356.1,279.1 355.7,280.5 355.3,282.0 354.9,283.4 354.5,284.9 354.1,286.3 353.8,287.8 353.4,289.2 353.0,290.7 352.6,292.1 352.2,293.6 351.8,295.0 351.4,296.5 351.0,297.9 350.6,299.3 350.2,300.8 349.8,302.2 349.4,303.7 349.0,305.1 348.6,306.6 348.2,308.0 347.9,309.5 347.5,310.9 347.1,312.4 346.7,313.8 346.3,315.3 345.9,316.7 345.5,318.2 345.1,319.6 344.7,321.1 344.3,322.5 344.0,324.0 343.6,325.4 343.2,326.9 342.8,328.3 342.4,329.8 342.0,331.2 341.6,332.7 341.3,334.1 340.9,335.6 340.5,337.0 340.1,338.5 339.7,339.9 339.3,341.4 338.9,342.8 338.6,344.3 338.2,345.7 337.8,347.2 337.4,348.6 337.0,350.1 336.6,351.5 336.3,353.0 335.9,354.4 335.5,355.9 335.0,357.3 334.4,358.7 333.7,359.9 332.9,361.2 332.1,362.5 331.3,363.7 330.5,365.0 329.7,366.3 328.8,367.5 328.0,368.8 327.2,370.1 326.5,371.3 325.7,372.7 325.1,374.0 324.5,375.4 323.9,376.8 323.3,378.2 322.7,379.5 322.1,380.9 321.5,382.3 320.9,383.6 320.3,385.0 319.7,386.4 319.1,387.8 318.5,389.2 317.9,390.5 317.3,391.9 316.7,393.3 316.1,394.7 315.6,396.0 315.0,397.4 314.4,398.8 313.8,400.2 313.2,401.6 312.8,403.0 312.5,404.5 312.3,406.0 312.0,407.4 311.7,408.9 311.4,410.4 311.2,411.9 310.9,413.3 310.6,414.8 310.3,416.3 310.1,417.8 309.9,419.3 309.8,420.7 309.7,422.2 309.6,423.7 309.5,425.2 309.4,426.7 309.3,428.2 309.2,429.7 309.0,431.2 308.8,432.7 308.5,434.2 308.2,435.6 307.8,437.1 307.5,438.6 307.2,440.0 306.8,441.5 306.5,442.9 306.1,444.4 305.5,445.7 304.8,447.0 304.0,448.3 303.2,449.6 302.5,450.9 301.7,452.2 300.9,453.5 300.1,454.7 299.2,456.0 298.3,457.2 297.4,458.4 296.5,459.5 295.5,460.7 294.5,461.7 293.3,462.7 292.2,463.6 291.0,464.6 289.8,465.5 288.6,466.4 287.4,467.2 286.0,467.8 284.6,468.4 283.2,468.9 281.9,469.2 280.5,468.8 279.1,468.3 277.7,467.7 276.4,467.0 275.2,466.1 274.1,465.1 273.1,464.1 272.0,463.0 270.9,461.9 269.9,460.9 268.9,459.8 267.9,458.6 267.2,457.3 266.5,456.0 265.9,454.6 265.2,453.3 264.6,451.9 263.9,450.6 263.3,449.2 262.7,447.9 262.1,446.5 261.7,445.0 261.3,443.6 260.9,442.2 260.5,440.7 260.1,439.3 259.6,437.8 259.2,436.4 258.8,434.9 258.4,433.5 258.1,432.0 257.7,430.6 257.5,429.1 257.2,427.6 257.0,426.1 256.7,424.7 256.4,423.2 256.2,421.7 255.9,420.2 255.7,418.8 255.5,417.3 255.4,415.8 255.3,414.3 255.2,412.8 255.1,411.3 255.0,409.8 254.9,408.3 254.8,406.8 254.7,405.3 254.6,403.8 254.5,402.3 254.4,400.8 254.1,399.3 253.7,397.9 253.2,396.5 252.8,395.0 252.3,393.6 251.9,392.2 251.4,390.8 250.9,389.3 250.5,387.9 250.0,386.5 249.5,385.1 249.0,383.6 248.5,382.2 248.1,380.8 247.6,379.4 247.1,378.0 246.6,376.5 246.1,375.1 245.6,373.7 245.1,372.3 244.7,370.9 244.2,369.5 243.7,368.0 243.1,366.6 242.6,365.2 242.1,363.8 241.6,362.4 241.1,361.0 240.6,359.6 240.1,358.1 239.6,356.7 239.1,355.3 238.7,353.9 238.2,352.5 237.8,351.0 237.3,349.6 236.9,348.2 236.4,346.7 236.0,345.3 235.5,343.9 235.1,342.4 234.6,341.0 234.2,339.6 233.8,338.1 233.3,336.7 232.9,335.3 232.4,333.8 232.0,332.4 231.7,330.9 231.4,329.5 231.1,328.0 230.7,326.5 230.4,325.1 230.1,323.6 229.8,322.1 229.5,320.7 229.1,319.2 228.8,317.7 228.5,316.3 228.2,314.8 227.8,313.3 227.5,311.9 227.2,310.4 226.9,308.9 226.5,307.5 226.2,306.0 225.9,304.5 225.6,303.1 225.2,301.6 224.9,300.2 224.6,298.7 224.2,297.2 223.9,295.8 223.6,294.3 223.2,292.8 222.9,291.4 222.6,289.9 222.2,288.4 221.9,287.0 221.6,285.5 221.2,284.1 220.9,282.6 220.6,281.1 220.2,279.7 219.9,278.2 219.6,276.7 219.2,275.3 218.9,273.8 218.6,272.4 218.2,270.9 217.9,269.4 217.5,268.0 217.2,266.5 216.8,265.1 216.5,263.6 216.2,262.1 215.8,260.7 215.5,259.2 215.1,257.7 214.8,256.3 214.5,254.8 214.1,253.4 213.8,251.9 213.4,250.4 213.1,249.0 212.7,247.5 212.4,246.1 212.0,244.6 211.7,243.1 211.3,241.7 211.0,240.2 210.6,238.8 210.3,237.3 209.9,235.8 209.6,234.4 209.2,232.9 208.9,231.5 208.5,230.0 208.2,228.6 207.8,227.1 207.5,225.6 207.1,224.2 206.8,222.7 206.4,221.3 206.1,219.8 205.7,218.3 205.4,216.9 205.0,215.4 204.7,214.0 204.3,212.5 203.9,211.1 203.6,209.6 203.2,208.1 202.9,206.7 202.5,205.2 202.1,203.8 201.8,202.3 201.4,200.9 201.1,199.4 200.7,197.9 200.3,196.5 200.0,195.0 199.6,193.6 199.2,192.1 198.9,190.7 198.5,189.2 198.2,187.8 197.8,186.3 197.4,184.8 197.1,183.4 196.7,181.9 196.3,180.5 196.0,179.0 195.6,177.6 195.2,176.1 194.9,174.7 194.5,173.2 194.1,171.7 193.7,170.3 193.4,168.8 193.0,167.4 192.6,165.9 192.3,164.5 191.9,163.0 191.5,161.6 191.1,160.1 190.8,158.7 190.4,157.2 190.0,155.8 189.7,154.3 189.3,152.9 188.9,151.4 188.5,149.9 188.1,148.5 187.8,147.0 187.4,145.6 187.0,144.1 186.6,142.7 186.3,141.2 185.9,139.8 185.5,138.3 185.1,136.9 184.7,135.4 184.4,134.0 184.0,132.5 183.6,131.1 183.2,129.6 182.8,128.2 182.4,126.7 182.1,125.3 181.7,123.8 181.3,122.4 180.9,120.9 180.5,119.5 180.1,118.0 179.7,116.6 179.4,115.1 179.0,113.7 178.6,112.2 178.2,110.8 177.8,109.3 177.4,107.9 177.0,106.4 176.6,105.0 176.2,103.5 175.8,102.1 175.5,100.6 175.1,99.2 174.7,97.7 174.3,96.3 173.9,94.9 173.3,93.5 172.4,92.5 171.1,91.7 169.8,91.0 168.5,90.3 167.1,89.8 165.6,89.4 164.2,89.1 162.7,88.8 161.3,88.6 159.8,88.7 158.3,88.8 156.8,89.1 155.5,89.6 154.3,90.4 153.1,91.3 151.9,92.3 150.9,93.3 150.0,94.5 149.2,95.8 148.3,97.0 147.5,98.3 146.6,99.5 145.7,100.7 144.7,101.8 143.8,103.0 142.8,104.1 141.8,105.2 140.7,106.2 139.6,107.3 138.5,108.3 137.5,109.4 136.4,110.4 135.4,111.5 134.3,112.6 133.3,113.7 132.2,114.8 131.2,115.8 130.1,116.8 129.0,117.9 127.9,118.9 126.8,119.9 125.6,120.9 124.4,121.8 123.2,122.6 122.0,123.5 120.7,124.3 119.5,125.2 118.2,126.0 117.0,126.8 115.7,127.6 114.4,128.4 113.2,129.2 111.9,130.0 110.6,130.7 109.3,131.5 108.0,132.2 106.7,132.9 105.4,133.7 104.1,134.4 102.7,135.2 101.4,135.9 100.2,136.7 98.9,137.4 97.5,138.2 96.2,138.8 94.9,139.4 93.5,139.8 92.0,139.8 90.7,139.5 89.8,138.8 89.5,137.5 89.5,136.0 89.5,134.5 89.5,133.0 89.5,131.5 89.5,130.0 89.5,128.5 89.5,127.0 89.5,125.5 89.5,124.0 89.5,122.5 89.5,121.0 89.5,119.5 89.5,118.0Z" fill="#ff0000"/>
<path d="M230.0,200.0L230.5,201.4 231.0,202.8 231.5,204.3 232.0,205.7 232.5,207.1 233.0,208.5 233.4,210.0 233.9,211.4 234.4,212.8 234.8,214.3 235.3,215.7 235.8,217.1 236.2,218.6 236.7,220.0 237.1,221.4 237.6,222.9 238.0,224.3 238.4,225.8 238.9,227.2 239.3,228.6 239.7,230.1 240.2,231.5 240.6,233.0 241.0,234.4 241.4,235.8 241.9,237.3 242.3,238.7 242.7,240.2 243.1,241.6 243.5,243.1 243.9,244.5 244.4,246.0 244.8,247.4 245.2,248.9 245.6,250.3 246.1,251.7 246.5,253.2 247.0,254.6 247.5,256.0 247.9,257.5 248.4,258.9 248.9,260.3 249.3,261.8 249.8,263.2 250.3,264.6 250.7,266.1 251.2,267.5 251.7,268.9 252.2,270.3 252.6,271.8 253.1,273.2 253.6,274.6 254.1,276.1 254.6,277.5 255.0,278.9 255.5,280.3 256.0,281.8 256.5,283.2 257.0,284.6 257.5,286.0 257.9,287.5 258.4,288.9 258.9,290.3 259.4,291.7 259.9,293.2 260.4,294.6 260.8,296.0 261.3,297.4 261.8,298.9 262.3,300.3 262.8,301.7 263.2,303.2 263.7,304.6 264.2,306.0 264.7,307.4 265.2,308.9 265.7,310.3 266.3,311.7 266.9,313.0 267.5,314.4 268.1,315.8 268.7,317.2 269.4,318.5 270.0,319.9 270.7,321.2 271.5,322.5 272.2,323.8 273.0,325.1 273.7,326.4 274.5,327.7 275.3,329.0 276.0,330.3 276.8,331.6 277.5,332.9 278.2,334.2 279.0,335.5 279.7,336.8 280.5,338.1 281.3,339.4 282.1,340.7 282.9,341.9 283.8,343.2 284.7,344.4 285.7,345.5 286.7,346.5 287.8,347.3 289.0,347.6 290.2,347.5 291.5,346.9 292.6,346.0 293.6,344.9 294.6,343.8 295.5,342.6 296.4,341.4 297.3,340.2 298.2,339.0 299.1,337.7 299.9,336.5 300.7,335.2 301.4,333.9 302.1,332.6 302.8,331.2 303.5,329.9 304.1,328.5 304.7,327.1 305.3,325.8 305.9,324.4 306.5,323.0" fill="none" stroke="#ff0000" stroke-width="3.8"/>
<path d="M233.5,210.0L234.0,211.4 234.4,212.9 234.9,214.3 235.3,215.8 235.8,217.2 236.2,218.6 236.7,220.1 237.1,221.5 237.6,223.0 238.0,224.4 238.5,225.9 238.9,227.3 239.3,228.7 239.8,230.2 240.2,231.6 240.6,233.1 241.1,234.5 241.5,236.0 241.9,237.4 242.3,238.9 242.7,240.3 243.2,241.8 243.6,243.2 244.0,244.7 244.4,246.1 244.8,247.6 245.2,249.0 245.7,250.5 246.1,251.9 246.6,253.4 247.1,254.8 247.5,256.2 248.0,257.7 248.5,259.1 248.9,260.5 249.4,262.0 249.9,263.4 250.4,264.9 250.8,266.3 251.3,267.7 251.8,269.2 252.2,270.6 252.7,272.0 253.2,273.5 253.7,274.9 254.2,276.3 254.7,277.7 255.1,279.2 255.6,280.6 256.1,282.0 256.6,283.5 257.1,284.9 257.6,286.3 258.0,287.8 258.5,289.2 259.0,290.6 259.5,292.1 260.0,293.5 260.5,294.9 261.0,296.3 261.4,297.8 261.9,299.2 262.4,300.6 262.9,302.1 263.4,303.5 263.8,304.9 264.3,306.4 264.8,307.8 265.3,309.2 265.8,310.6 266.4,312.0 267.0,313.4 267.7,314.8 268.3,316.2 268.9,317.5 269.5,318.9 270.2,320.2 270.9,321.6 271.7,322.9 272.4,324.2 273.2,325.5 274.0,326.8 274.7,328.1 275.5,329.4" fill="none" stroke="#ffffff" stroke-width="0.8"/>
<path d="M276.0,349.5L277.3,350.4 278.6,351.3 279.9,352.1 281.3,352.7 282.8,353.2 284.3,353.5 285.8,353.6 287.3,353.4 288.8,353.0 290.2,352.4 291.6,351.7 293.0,351.0" fill="none" stroke="#ffffff" stroke-width="1.2"/>
<path d="M281.0,357.0L282.4,357.7 283.8,358.3 285.2,358.7 286.7,358.8 288.1,358.5 289.5,358.1 291.0,357.5" fill="none" stroke="#ffffff" stroke-width="1.0"/>
<path d="M372.0,101.0L372.5,99.6 373.1,98.2 373.6,96.8 374.2,95.3 374.7,93.9 375.2,92.5 375.8,91.1 376.3,89.7 376.9,88.3 377.4,86.8 377.9,85.4 378.5,84.0 379.0,82.6 379.6,81.2 380.1,79.8 380.7,78.4 381.2,77.0 381.8,75.6 382.4,74.2 383.0,72.8 383.5,71.4 384.1,70.0 384.7,68.6 385.3,67.1 385.8,65.7 386.4,64.3 387.0,62.9 387.6,61.5 388.1,60.1 388.7,58.8 389.4,57.4 390.0,56.0 390.7,54.7 391.4,53.3 392.1,52.0 392.8,50.7 393.6,49.3 394.3,48.0 395.0,46.6 395.7,45.3 396.4,43.9 397.1,42.6 397.8,41.3 398.5,39.9 399.2,38.6 399.8,37.2 400.5,35.9 401.2,34.5 401.9,33.2 402.6,31.8 403.3,30.5 403.9,29.1 404.6,27.8 405.4,26.4 406.2,25.2 407.1,24.0 408.0,22.8 409.1,21.7 410.1,20.6 411.1,19.5 412.1,18.4 413.2,17.3 414.3,16.3 415.5,15.3 416.7,14.5 418.0,13.7 419.4,13.0 420.7,12.4 422.1,11.9 423.6,11.6 425.1,11.4 426.6,11.2 428.1,11.1 429.6,11.2 431.0,11.4 432.5,11.7 434.0,12.0" fill="none" stroke="#ffffff" stroke-width="1.3"/>
<path d="M445.0,16.0L446.4,16.6 447.8,17.1 449.2,17.7 450.6,18.2 452.0,18.8 453.4,19.4 454.8,19.9 456.1,20.6 457.5,21.2 458.9,21.8 460.3,22.4 461.6,23.1 463.0,23.7 464.4,24.3 465.7,25.0 467.1,25.6 468.4,26.3 469.6,27.1 470.8,28.0 471.8,29.1 472.9,30.2 473.9,31.3 474.9,32.4 475.9,33.5 476.9,34.7 477.9,35.8 478.9,36.9 479.8,38.1 480.7,39.3 481.7,40.5 482.6,41.7 483.5,42.9 484.4,44.1 485.3,45.3 486.2,46.5 487.2,47.6 488.1,48.8 489.1,50.0 490.1,51.1 491.1,52.2 492.1,53.4 493.0,54.5 494.0,55.6 495.0,56.8 496.0,57.9 497.0,59.0 498.0,60.2 498.9,61.3 499.9,62.5 500.9,63.7 501.8,64.8 502.8,66.0 503.7,67.1 504.7,68.3 505.7,69.5 506.6,70.6 507.6,71.7 508.7,72.8 509.8,73.9 510.8,74.9 511.9,76.0 513.0,77.0" fill="none" stroke="#ffffff" stroke-width="1.3"/>
<path d="M161.0,30.5L162.5,30.9 163.9,31.2 165.3,31.7 166.6,32.3 167.9,33.1 169.0,34.0 170.0,35.1 171.1,36.1 172.1,37.2 173.1,38.4 173.9,39.6 174.8,40.8 175.6,42.1 176.4,43.4 177.1,44.7 177.9,45.9 178.7,47.2 179.4,48.5 180.1,49.9 180.9,51.2 181.6,52.5 182.3,53.8 183.0,55.1 183.6,56.5 184.2,57.9 184.8,59.2 185.4,60.6 186.0,62.0" fill="none" stroke="#ffffff" stroke-width="1.1"/>
<path d="M259.0,441.0L259.7,442.3 260.4,443.7 261.2,445.0 261.9,446.3 262.6,447.7 263.3,449.0 264.0,450.3 264.8,451.7 265.6,452.9 266.5,454.1 267.5,455.2 268.6,456.3 269.7,457.3 270.9,458.3 272.0,459.2 273.2,460.1 274.5,460.9 275.8,461.6 277.2,462.2 278.6,462.7 280.0,463.1 281.5,463.4 282.9,463.3 284.2,462.9 285.6,462.4 287.0,461.8 288.4,461.1 289.7,460.4 291.0,459.6 292.2,458.7 293.3,457.7 294.4,456.6 295.4,455.6 296.5,454.5 297.6,453.4 298.6,452.3 299.5,451.1 300.5,449.9 301.4,448.7 302.2,447.5 303.1,446.2 304.0,445.0" fill="none" stroke="#ffffff" stroke-width="1.6"/>
<path d="M96.0,118.0L96.8,116.7 97.6,115.4 98.4,114.2 99.2,112.9 100.0,111.6 100.9,110.4 101.7,109.2 102.7,108.0 103.6,106.8 104.6,105.6 105.6,104.5 106.6,103.4 107.6,102.3 108.7,101.3 109.7,100.2 110.8,99.1 111.8,98.0 112.7,96.8 113.7,95.6 114.5,94.4 115.3,93.1 116.1,91.8 116.9,90.6 117.6,89.2 118.3,87.9 118.9,86.5 119.5,85.1 120.1,83.8 120.7,82.4 121.3,81.0 121.9,79.6 122.6,78.3 123.2,76.9 123.9,75.5 124.5,74.2 125.2,72.8 125.9,71.5 126.6,70.2 127.3,68.9 128.1,67.5 128.8,66.2 129.5,64.9 130.3,63.6 131.0,62.3 131.7,61.0 132.5,59.7 133.2,58.3 134.0,57.0 134.7,55.7 135.5,54.4 136.3,53.2 137.0,51.9 137.8,50.6 138.6,49.3 139.4,48.0 140.2,46.7 141.0,45.5 141.9,44.2 142.8,43.0 143.7,41.8 144.6,40.6 145.6,39.5 146.5,38.3 147.5,37.1 148.5,36.0 149.6,35.0 150.8,34.1 152.0,33.3 153.3,32.6 154.7,32.2 156.1,32.1 157.5,32.3 158.8,32.8 159.9,33.6 160.8,34.7 161.7,35.9 162.4,37.2 163.1,38.6 163.7,39.9 164.3,41.3 164.7,42.8 165.1,44.2 165.5,45.7 165.9,47.1 166.3,48.6 166.7,50.0 167.1,51.5 167.4,52.9 167.8,54.4 168.2,55.8 168.6,57.3 169.0,58.8 169.4,60.2 169.8,61.7 170.2,63.1 170.6,64.6 170.9,66.0 171.3,67.5 171.7,68.9 172.1,70.4 172.5,71.9 172.9,73.3 173.3,74.8 173.7,76.2 174.0,77.7 174.4,79.1 174.8,80.6 175.2,82.0 175.6,83.5 176.0,85.0 176.4,86.4 176.8,87.9 177.2,89.3 177.5,90.8 177.9,92.2 178.3,93.7 178.7,95.1 179.1,96.6 179.5,98.1 179.9,99.5 180.3,101.0 180.7,102.4 181.1,103.9 181.5,105.3 181.9,106.8 182.3,108.2 182.8,109.7 183.2,111.1 183.6,112.6 184.0,114.0" fill="none" stroke="#000" stroke-width="4.0" stroke-dasharray="4 5.5"/>
<path d="M125.0,95.0L125.9,93.8 126.8,92.6 127.8,91.4 128.7,90.2 129.6,89.0 130.5,87.8 131.5,86.6 132.4,85.4 133.3,84.2 134.2,83.0 135.1,81.7 136.0,80.5 136.8,79.3 137.7,78.0 138.5,76.7 139.4,75.5 140.2,74.2 141.0,72.9 141.9,71.7 142.7,70.4 143.5,69.1 144.3,67.8 145.0,66.5 145.8,65.2 146.6,63.9 147.3,62.6 148.1,61.3 148.9,60.0 149.7,58.7 150.6,57.5 151.5,56.3 152.4,55.1 153.4,54.0 154.5,53.2 155.8,52.7 157.1,52.6 158.4,53.0 159.6,53.7 160.5,54.7 161.2,55.9 161.9,57.3 162.5,58.7 163.1,60.1 163.7,61.5 164.3,62.9 164.8,64.3 165.3,65.7 165.8,67.1 166.3,68.6 166.9,70.0 167.4,71.4 167.9,72.8 168.4,74.3 168.9,75.7 169.4,77.1 169.9,78.5 170.4,80.0 170.9,81.4 171.4,82.8 171.9,84.3 172.5,85.7 173.0,87.1 173.5,88.5 174.0,90.0 174.4,91.4 174.9,92.9 175.3,94.3 175.8,95.8 176.2,97.2 176.7,98.7 177.1,100.1 177.6,101.6 178.0,103.0" fill="none" stroke="#000" stroke-width="4.0" stroke-dasharray="4 5.5"/>
<path d="M130.0,95.0L130.9,93.8 131.8,92.6 132.7,91.4 133.6,90.1 134.5,88.9 135.4,87.7 136.3,86.5 137.2,85.3 138.0,84.0 138.9,82.8 139.8,81.6 140.6,80.3 141.5,79.1 142.3,77.8 143.2,76.6 144.0,75.3 144.8,74.1 145.7,72.8 146.5,71.5 147.3,70.2 148.1,69.0 148.9,67.7 149.8,66.5 150.7,65.3 151.7,64.1 152.7,63.0 153.8,62.0 154.9,61.1 156.1,60.6 157.5,60.5 158.8,60.8 160.0,61.5 161.0,62.5 161.8,63.7 162.5,65.0 163.1,66.4 163.7,67.8 164.2,69.2 164.8,70.6 165.3,72.0 165.9,73.5 166.4,74.9 166.9,76.3 167.4,77.7 167.9,79.2 168.4,80.6 168.9,82.0 169.4,83.4 169.8,84.9 170.3,86.3 170.8,87.7 171.3,89.1 171.8,90.6 172.3,92.0 172.8,93.4 173.2,94.9 173.7,96.3 174.2,97.7 174.6,99.2 175.1,100.6 175.5,102.1 176.0,103.5" fill="none" stroke="#000" stroke-width="4.0" stroke-dasharray="4 5.5"/>
<path d="M135.0,95.0L135.9,93.8 136.7,92.5 137.6,91.3 138.5,90.0 139.3,88.8 140.2,87.5 141.0,86.3 141.9,85.0 142.8,83.8 143.6,82.5 144.5,81.3 145.4,80.0 146.3,78.8 147.1,77.5 148.0,76.3 148.9,75.1 149.8,73.8 150.7,72.7 151.7,71.6 152.8,70.5 154.0,69.6 155.2,68.7 156.4,68.1 157.7,68.0 159.0,68.4 160.2,69.1 161.3,70.1 162.2,71.2 162.9,72.5 163.5,73.9 164.1,75.3 164.7,76.7 165.2,78.1 165.8,79.5 166.3,81.0 166.8,82.4 167.3,83.8 167.8,85.3 168.2,86.7 168.7,88.2 169.2,89.6 169.7,91.0 170.2,92.5 170.6,93.9 171.1,95.4 171.6,96.8 172.1,98.2 172.6,99.7 173.0,101.1 173.5,102.6 174.0,104.0" fill="none" stroke="#000" stroke-width="4.0" stroke-dasharray="4 5.5"/>
<path d="M588.0,138.0L588.2,136.5 588.5,134.9 588.7,133.4 588.9,131.9 589.2,130.4 589.4,128.8 589.6,127.3 589.9,125.8 590.1,124.2 590.4,122.7 590.6,121.2 590.8,119.6 591.1,118.1 591.3,116.6 591.5,115.1 591.8,113.5 592.0,112.0" fill="none" stroke="#000" stroke-width="4.0" stroke-dasharray="4 5.5" stroke-dashoffset="0.0"/>
<path d="M592.0,138.0L592.2,136.5 592.4,134.9 592.6,133.4 592.8,131.8 593.0,130.3 593.2,128.7 593.4,127.2 593.5,125.6 593.7,124.1 593.9,122.6 594.1,121.0 594.3,119.5 594.5,117.9 594.6,116.4 594.8,114.8 595.0,113.3 595.1,111.7 595.3,110.2 595.5,108.6 595.7,107.1 595.8,105.5 596.0,104.0" fill="none" stroke="#000" stroke-width="4.0" stroke-dasharray="4 5.5" stroke-dashoffset="2.7"/>
<path d="M596.0,138.0L596.1,136.5 596.2,135.0 596.3,133.4 596.3,131.9 596.4,130.4 596.5,128.9 596.6,127.3 596.7,125.8 596.8,124.3 596.8,122.8 596.9,121.3 597.0,119.7 597.1,118.2 597.2,116.7 597.3,115.2 597.4,113.7 597.5,112.1 597.6,110.6 597.6,109.1 597.7,107.6 597.8,106.0 597.9,104.5 598.0,103.0" fill="none" stroke="#000" stroke-width="4.0" stroke-dasharray="4 5.5" stroke-dashoffset="5.4"/>
<path d="M600.0,138.0L600.1,136.5 600.2,134.9 600.4,133.4 600.5,131.8 600.6,130.3 600.7,128.7 600.8,127.2 601.0,125.6 601.2,124.1 601.5,122.6 601.8,121.1 602.1,119.6 602.4,118.0 602.7,116.5 603.0,115.0" fill="none" stroke="#000" stroke-width="4.0" stroke-dasharray="4 5.5" stroke-dashoffset="8.1"/>
<path d="M585.0,138.0L585.4,136.5 585.8,134.9 586.2,133.4 586.5,131.8 586.9,130.3 587.3,128.7 587.6,127.2 588.0,125.6 588.3,124.1 588.7,122.5 589.0,121.0" fill="none" stroke="#000" stroke-width="4.0" stroke-dasharray="4 5.5" stroke-dashoffset="10.8"/>
<path d="M594.0,138.0L594.2,136.5 594.4,134.9 594.5,133.4 594.7,131.9 594.9,130.4 595.1,128.8 595.2,127.3 595.4,125.8 595.6,124.2 595.8,122.7 595.9,121.2 596.1,119.6 596.3,118.1 596.5,116.6 596.6,115.1 596.8,113.5 597.0,112.0" fill="none" stroke="#000" stroke-width="4.0" stroke-dasharray="4 5.5" stroke-dashoffset="13.5"/>
<path d="M603.0,137.0L603.3,135.5 603.7,134.0 604.0,132.5 604.3,131.0 604.7,129.5 605.0,128.0 605.3,126.5 605.7,125.0 606.0,123.5 606.3,122.0 606.7,120.5 607.0,119.0" fill="none" stroke="#000" stroke-width="4.0" stroke-dasharray="4 5.5" stroke-dashoffset="16.2"/>
<path d="M519.0,238.0L520.1,239.0 521.2,240.1 522.3,241.1 523.4,242.1 524.5,243.2 525.6,244.2 526.7,245.2 527.8,246.3 528.8,247.3 529.9,248.4 531.0,249.4 532.1,250.5 533.1,251.6 534.2,252.6 535.2,253.7 536.3,254.8 537.4,255.8 538.4,256.9 539.5,257.9 540.7,258.8 541.9,259.6 543.3,260.1 544.7,260.5 546.2,260.8 547.6,261.1 549.1,261.3 550.5,261.3 551.9,261.0 553.2,260.4 554.5,259.7 555.8,259.0 557.1,258.2 558.4,257.4 559.6,256.6 560.8,255.6 561.8,254.6 562.8,253.5 563.8,252.3 564.7,251.1 565.6,249.9 566.6,248.8 567.5,247.6 568.4,246.4 569.3,245.2 570.2,244.0 571.1,242.8 572.0,241.5 572.8,240.3 573.7,239.1 574.6,237.9 575.5,236.6 576.4,235.4 577.2,234.2 578.1,233.0 579.0,231.7 579.9,230.5 580.7,229.3 581.6,228.1 582.5,226.8 583.4,225.6 584.2,224.4 585.1,223.2 586.0,221.9 586.8,220.7 587.7,219.4 588.5,218.2 589.2,216.9 589.9,215.5 590.6,214.2 591.2,212.8 591.9,211.5 592.6,210.1 593.3,208.8 593.9,207.4 594.6,206.1 595.3,204.7 596.0,203.4 596.6,202.1 597.3,200.7 597.9,199.3 598.6,198.0 599.2,196.6 599.8,195.2 600.4,193.9 601.0,192.5 601.6,191.1 602.3,189.7 602.9,188.3 603.5,187.0 604.1,185.6 604.7,184.2 605.2,182.8 605.7,181.4 606.0,179.9 606.3,178.5 606.4,177.0 606.6,175.5 606.8,174.0 607.0,172.5 607.2,171.0 607.3,169.5 607.5,168.0 607.7,166.5 607.9,165.0 608.0,163.5 608.1,162.0 608.2,160.5 608.4,159.0 608.5,157.5 608.6,156.0 608.7,154.5 608.8,153.0 608.9,151.5 609.0,150.0" fill="none" stroke="#000" stroke-width="4.0" stroke-dasharray="4 5.5"/>
<path d="M513.0,226.0L514.1,227.1 515.2,228.1 516.3,229.2 517.4,230.2 518.5,231.3 519.5,232.3 520.6,233.4 521.7,234.4 522.8,235.5 523.9,236.5 525.0,237.6 526.1,238.6 527.2,239.7 528.3,240.7 529.4,241.7 530.6,242.6 531.8,243.5 533.0,244.4 534.3,245.3 535.5,246.2 536.8,247.0 538.0,247.9 539.3,248.7 540.6,249.4 541.9,249.9 543.4,250.2 544.9,250.4 546.4,250.5 547.9,250.7 549.4,250.7 550.8,250.6 552.2,250.2 553.6,249.7 555.0,249.0 556.3,248.3 557.7,247.6 559.0,246.9 560.3,246.1 561.5,245.2 562.5,244.2 563.6,243.1 564.6,242.0 565.6,240.9 566.6,239.7 567.6,238.6 568.6,237.5 569.6,236.3 570.6,235.1 571.5,233.9 572.3,232.7 573.2,231.5 574.1,230.2 575.0,229.0 575.9,227.8 576.7,226.6 577.6,225.3 578.5,224.1 579.4,222.8 580.2,221.6 581.0,220.3 581.8,219.0 582.7,217.8 583.5,216.5 584.3,215.2 585.1,213.9 585.9,212.6 586.7,211.3 587.5,210.1 588.3,208.8 589.1,207.5 589.8,206.2 590.6,204.9 591.3,203.5 592.0,202.2 592.7,200.9 593.4,199.5 594.1,198.2 594.8,196.8 595.6,195.5 596.3,194.2 597.0,192.8 597.7,191.5 598.4,190.1 599.0,188.8 599.6,187.4 600.2,186.0 600.8,184.6 601.4,183.2 602.0,181.8 602.5,180.4 603.1,179.0 603.7,177.6 604.3,176.2 604.8,174.8 605.4,173.4 606.0,172.0" fill="none" stroke="#000" stroke-width="4.0" stroke-dasharray="4 5.5"/>
<path d="M461.7,115.7L462.4,117.0 463.1,118.4 463.7,119.7 464.4,121.1 465.1,122.4 465.8,123.8 466.4,125.1 467.1,126.5 467.8,127.8 468.5,129.2 469.2,130.5 469.8,131.9 470.5,133.2 471.2,134.6 471.8,135.9 472.4,137.3 473.1,138.7 473.7,140.1 474.3,141.4 474.9,142.8 475.5,144.2 476.2,145.6 476.8,146.9 477.4,148.3 478.0,149.7 478.6,151.1 479.3,152.4 479.9,153.8 480.6,155.2 481.2,156.5 481.9,157.9 482.6,159.2 483.2,160.6 483.9,161.9 484.6,163.3 485.2,164.6 485.9,166.0 486.6,167.3 487.3,168.7 487.9,170.0 488.6,171.4 489.3,172.7 490.0,174.1 490.6,175.4 491.3,176.8 492.0,178.1 492.7,179.5 493.4,180.8 494.0,182.1 494.7,183.5 495.4,184.8 496.1,186.2 496.7,187.5 497.4,188.9 498.0,190.3 498.6,191.7 499.2,193.0 499.8,194.4 500.4,195.8 501.0,197.2 501.7,198.6 502.3,199.9 502.9,201.3 503.5,202.7 504.1,204.1 504.7,205.5 505.3,206.8 505.9,208.2 506.5,209.6 507.1,211.0 507.7,212.4 508.4,213.7 509.0,215.1 509.6,216.5 510.2,217.9 510.8,219.3 511.4,220.6 512.2,221.9 512.9,223.2 513.8,224.5 514.7,225.7 515.6,226.9 516.5,228.1 517.3,229.3 518.2,230.6 519.1,231.8 520.0,233.0" fill="none" stroke="#000" stroke-width="4.0" stroke-dasharray="4 5.5"/>
<path d="M604.0,112.0L604.5,113.4 605.0,114.9 605.5,116.3 606.0,117.7 606.6,119.1 607.1,120.6 607.6,122.0 608.1,123.4 608.5,124.9 608.9,126.3 609.2,127.8 609.4,129.3 609.6,130.8 609.8,132.3 610.0,133.8 610.2,135.3 610.4,136.8 610.5,138.3 610.7,139.8 610.8,141.4 610.9,142.9 610.8,144.4 610.8,145.9 610.7,147.4 610.6,148.9 610.5,150.4 610.4,151.9 610.3,153.5 610.2,155.0 610.1,156.5 610.0,158.0" fill="none" stroke="#000" stroke-width="4.0" stroke-dasharray="4 5.5"/>
<path d="M236.0,355.0L236.7,356.3 237.5,357.7 238.2,359.0 238.9,360.3 239.6,361.6 240.4,363.0 241.1,364.3 241.8,365.6 242.5,366.9 243.3,368.3 244.0,369.6 244.8,370.9 245.5,372.2 246.3,373.5 247.1,374.8 247.9,376.1 248.7,377.3 249.5,378.6 250.3,379.9 251.1,381.2 251.9,382.5 252.7,383.8 253.5,385.1 254.3,386.3 255.2,387.6 256.0,388.8 256.9,390.0 257.8,391.2 258.7,392.5 259.6,393.7 260.5,394.9 261.4,396.1 262.3,397.3 263.2,398.5 264.2,399.6 265.4,400.6 266.6,401.4 267.9,402.2 269.2,403.0 270.5,403.8 271.8,404.6 273.1,405.3 274.5,405.9 275.9,406.3 277.4,406.7 278.8,407.0 280.3,407.3 281.8,407.5 283.3,407.6 284.8,407.5 286.2,407.2 287.7,406.8 289.1,406.4 290.6,406.0 292.0,405.5 293.4,405.0 294.7,404.3 296.0,403.5 297.2,402.6 298.4,401.7 299.6,400.8 300.9,399.9 302.0,399.0 303.2,398.0 304.3,397.0 305.4,396.0 306.5,394.9 307.6,393.8 308.7,392.8 309.7,391.7 310.8,390.6 311.9,389.6 312.9,388.4 313.8,387.3 314.7,386.0 315.5,384.8 316.4,383.5 317.2,382.3 318.0,381.0 318.9,379.7 319.7,378.5 320.5,377.2 321.3,375.9 322.1,374.6 322.9,373.3 323.6,372.0 324.3,370.7 325.0,369.3 325.7,368.0 326.4,366.7 327.2,365.3 327.9,364.0 328.6,362.7 329.3,361.3 330.0,360.0" fill="none" stroke="#000" stroke-width="4.0" stroke-dasharray="4 5.5"/>
<path d="M237.3,361.7L238.0,363.0 238.7,364.3 239.4,365.7 240.1,367.0 240.8,368.4 241.5,369.7 242.2,371.0 242.9,372.4 243.6,373.7 244.3,375.1 245.0,376.4 245.8,377.7 246.6,379.0 247.4,380.2 248.2,381.5 249.0,382.8 249.9,384.0 250.7,385.3 251.5,386.5 252.4,387.8 253.2,389.0 254.0,390.3 254.9,391.5 255.8,392.8 256.7,393.9 257.6,395.1 258.6,396.3 259.5,397.5 260.5,398.7 261.4,399.8 262.4,401.0 263.3,402.2 264.3,403.3 265.3,404.4 266.4,405.5 267.6,406.4 268.8,407.2 270.1,408.0 271.4,408.7 272.7,409.5 274.1,410.2 275.4,410.9 276.8,411.4 278.2,411.8 279.7,412.0 281.2,412.3 282.7,412.5 284.2,412.6 285.7,412.7 287.2,412.6 288.6,412.3 290.1,411.9 291.5,411.5 293.0,411.0 294.4,410.5 295.7,409.9 297.0,409.1 298.3,408.3 299.5,407.4 300.7,406.5 301.9,405.6 303.1,404.6 304.2,403.7 305.4,402.7 306.4,401.6 307.5,400.6 308.6,399.5 309.6,398.4 310.7,397.3 311.7,396.2 312.7,395.1 313.7,394.0 314.7,392.8 315.6,391.6 316.4,390.4 317.2,389.1 318.0,387.8 318.8,386.5 319.6,385.3 320.5,384.0 321.3,382.7 322.1,381.4 322.8,380.2 323.6,378.9 324.3,377.5 325.0,376.2 325.7,374.9 326.4,373.5 327.1,372.2 327.8,370.9 328.5,369.5 329.2,368.2 329.9,366.8 330.6,365.5 331.3,364.2" fill="none" stroke="#000" stroke-width="4.0" stroke-dasharray="4 5.5"/>
<path d="M238.7,368.3L239.3,369.7 240.0,371.0 240.7,372.4 241.3,373.7 242.0,375.1 242.7,376.5 243.3,377.8 244.0,379.2 244.7,380.5 245.3,381.9 246.0,383.2 246.8,384.5 247.6,385.8 248.4,387.0 249.3,388.2 250.2,389.5 251.1,390.7 251.9,391.9 252.8,393.1 253.7,394.4 254.6,395.6 255.4,396.8 256.4,398.0 257.3,399.2 258.3,400.3 259.3,401.5 260.2,402.6 261.2,403.7 262.2,404.9 263.2,406.0 264.2,407.1 265.2,408.3 266.3,409.3 267.4,410.4 268.5,411.3 269.8,412.2 271.1,413.0 272.4,413.7 273.7,414.4 275.0,415.1 276.3,415.8 277.7,416.4 279.1,416.9 280.6,417.2 282.1,417.4 283.6,417.6 285.1,417.7 286.6,417.8 288.0,417.8 289.5,417.6 291.0,417.4 292.5,417.0 293.9,416.6 295.3,416.1 296.7,415.5 298.0,414.8 299.3,414.0 300.6,413.2 301.8,412.3 303.0,411.4 304.1,410.4 305.3,409.4 306.4,408.4 307.5,407.4 308.5,406.3 309.6,405.2 310.6,404.1 311.6,403.0 312.6,401.9 313.6,400.7 314.6,399.6 315.6,398.4 316.5,397.2 317.3,396.0 318.1,394.7 318.9,393.4 319.7,392.1 320.5,390.9 321.2,389.6 322.0,388.3 322.8,387.0 323.6,385.7 324.3,384.4 325.1,383.1 325.8,381.7 326.5,380.4 327.2,379.1 327.9,377.7 328.5,376.4 329.2,375.0 329.9,373.7 330.6,372.4 331.3,371.0 332.0,369.7 332.7,368.3" fill="none" stroke="#000" stroke-width="4.0" stroke-dasharray="4 5.5"/>
<path d="M240.0,375.0L240.6,376.4 241.3,377.7 241.9,379.1 242.5,380.5 243.2,381.8 243.8,383.2 244.4,384.6 245.1,385.9 245.7,387.3 246.4,388.7 247.0,390.0 247.8,391.3 248.6,392.6 249.5,393.8 250.4,395.0 251.3,396.2 252.2,397.4 253.2,398.6 254.1,399.8 255.0,401.0 255.9,402.2 256.9,403.3 257.8,404.5 258.8,405.6 259.8,406.7 260.9,407.8 261.9,408.9 263.0,410.0 264.0,411.1 265.1,412.2 266.1,413.3 267.2,414.3 268.3,415.3 269.4,416.3 270.7,417.2 271.9,418.0 273.3,418.7 274.6,419.4 275.9,420.1 277.3,420.8 278.6,421.4 280.0,422.0 281.4,422.4 282.9,422.6 284.4,422.8 285.9,422.8 287.4,422.9 288.9,422.9 290.4,422.9 291.9,422.7 293.4,422.5 294.8,422.1 296.3,421.7 297.6,421.1 299.0,420.5 300.3,419.7 301.6,418.9 302.8,418.0 304.0,417.1 305.2,416.2 306.3,415.2 307.4,414.2 308.5,413.2 309.6,412.1 310.6,411.0 311.6,409.8 312.6,408.7 313.6,407.6 314.6,406.4 315.5,405.3 316.5,404.1 317.4,402.9 318.2,401.7 319.0,400.4 319.8,399.1 320.6,397.8 321.3,396.5 322.1,395.2 322.8,393.9 323.6,392.6 324.3,391.3 325.1,390.0 325.8,388.6 326.5,387.3 327.2,386.0 327.9,384.6 328.6,383.3 329.3,381.9 329.9,380.6 330.6,379.2 331.3,377.9 332.0,376.5 332.6,375.2 333.3,373.8 334.0,372.5" fill="none" stroke="#000" stroke-width="4.0" stroke-dasharray="4 5.5"/>
<path d="M241.3,381.7L241.9,383.1 242.5,384.4 243.2,385.8 243.8,387.2 244.4,388.6 245.0,390.0 245.6,391.4 246.2,392.7 246.8,394.1 247.4,395.5 248.1,396.8 248.8,398.1 249.7,399.4 250.6,400.6 251.5,401.7 252.5,402.9 253.4,404.1 254.4,405.2 255.4,406.4 256.3,407.6 257.3,408.7 258.3,409.9 259.3,411.0 260.3,412.1 261.4,413.2 262.5,414.2 263.6,415.2 264.7,416.3 265.8,417.3 266.9,418.3 268.0,419.4 269.1,420.4 270.3,421.3 271.5,422.2 272.8,423.0 274.1,423.7 275.4,424.4 276.8,425.1 278.1,425.8 279.5,426.4 280.9,427.0 282.3,427.6 283.7,427.9 285.2,428.1 286.7,428.1 288.2,428.1 289.7,428.1 291.2,428.0 292.7,428.0 294.2,427.8 295.7,427.6 297.2,427.2 298.6,426.8 299.9,426.2 301.3,425.5 302.5,424.7 303.8,423.8 305.0,422.9 306.2,422.0 307.4,421.1 308.5,420.1 309.6,419.0 310.6,417.9 311.6,416.8 312.6,415.7 313.6,414.5 314.6,413.4 315.5,412.2 316.5,411.0 317.4,409.8 318.3,408.6 319.2,407.4 320.0,406.1 320.7,404.8 321.5,403.5 322.2,402.2 322.9,400.9 323.7,399.5 324.4,398.2 325.1,396.9 325.9,395.6 326.6,394.2 327.3,392.9 328.0,391.6 328.7,390.2 329.3,388.9 330.0,387.5 330.7,386.2 331.3,384.8 332.0,383.4 332.7,382.1 333.3,380.7 334.0,379.4 334.7,378.0 335.3,376.7" fill="none" stroke="#000" stroke-width="4.0" stroke-dasharray="4 5.5"/>
<path d="M242.7,388.3L243.2,389.7 243.8,391.1 244.4,392.5 245.0,393.9 245.6,395.3 246.1,396.7 246.7,398.1 247.3,399.5 247.9,400.9 248.5,402.3 249.1,403.7 249.8,405.0 250.7,406.2 251.7,407.4 252.7,408.5 253.7,409.7 254.7,410.8 255.7,411.9 256.7,413.1 257.7,414.2 258.7,415.3 259.7,416.4 260.7,417.5 261.8,418.6 263.0,419.6 264.1,420.6 265.3,421.6 266.4,422.5 267.6,423.5 268.7,424.5 269.9,425.5 271.0,426.4 272.3,427.3 273.5,428.1 274.9,428.8 276.2,429.5 277.6,430.2 279.0,430.8 280.3,431.4 281.7,432.0 283.1,432.6 284.5,433.1 286.0,433.4 287.4,433.5 289.0,433.5 290.5,433.4 292.0,433.3 293.5,433.2 295.0,433.0 296.5,432.9 298.0,432.6 299.5,432.3 300.9,431.9 302.2,431.3 303.5,430.5 304.8,429.7 306.0,428.8 307.2,427.9 308.4,426.9 309.6,426.0 310.7,425.0 311.7,423.9 312.7,422.7 313.7,421.6 314.6,420.4 315.6,419.2 316.5,418.0 317.5,416.8 318.4,415.6 319.3,414.4 320.1,413.2 320.9,411.9 321.7,410.6 322.4,409.3 323.1,407.9 323.9,406.6 324.6,405.3 325.3,403.9 326.0,402.6 326.7,401.2 327.4,399.9 328.1,398.5 328.8,397.2 329.4,395.8 330.1,394.5 330.8,393.1 331.4,391.8 332.1,390.4 332.7,389.0 333.4,387.7 334.0,386.3 334.7,384.9 335.4,383.6 336.0,382.2 336.7,380.8" fill="none" stroke="#000" stroke-width="4.0" stroke-dasharray="4 5.5"/>
<path d="M244.0,395.0L244.5,396.4 245.1,397.8 245.6,399.2 246.2,400.6 246.7,402.0 247.3,403.4 247.8,404.8 248.3,406.2 248.9,407.6 249.4,409.0 250.1,410.4 250.8,411.7 251.6,412.9 252.6,414.0 253.6,415.1 254.7,416.2 255.7,417.3 256.7,418.4 257.8,419.5 258.8,420.6 259.8,421.7 260.9,422.8 262.0,423.8 263.1,424.8 264.2,425.7 265.4,426.7 266.6,427.6 267.8,428.5 269.0,429.5 270.2,430.4 271.4,431.3 272.6,432.2 273.8,433.0 275.1,433.8 276.5,434.4 277.8,435.0 279.2,435.6 280.6,436.2 282.0,436.8 283.4,437.4 284.7,438.0 286.1,438.5 287.6,438.8 289.0,439.0 290.5,438.9 292.0,438.8 293.5,438.6 295.0,438.4 296.5,438.2 298.0,438.1 299.5,437.9 300.9,437.6 302.4,437.3 303.7,436.8 305.0,436.0 306.2,435.2 307.4,434.3 308.6,433.4 309.8,432.4 311.0,431.5 312.1,430.5 313.2,429.5 314.2,428.4 315.1,427.2 316.0,426.0 316.9,424.8 317.8,423.6 318.7,422.4 319.6,421.2 320.5,419.9 321.4,418.7 322.2,417.4 322.9,416.1 323.6,414.8 324.3,413.5 324.9,412.1 325.6,410.8 326.3,409.4 327.0,408.1 327.6,406.7 328.3,405.4 329.0,404.0 329.6,402.7 330.3,401.3 330.9,400.0 331.6,398.6 332.2,397.3 332.9,395.9 333.5,394.5 334.2,393.2 334.8,391.8 335.4,390.4 336.1,389.1 336.7,387.7 337.4,386.4 338.0,385.0" fill="none" stroke="#000" stroke-width="4.0" stroke-dasharray="4 5.5"/>
<path d="M148.1,104.0L148.5,105.4 148.9,106.9 149.3,108.3 149.7,109.8 150.1,111.2 150.5,112.7 150.9,114.1 151.3,115.6 151.7,117.0 152.1,118.5 152.5,119.9 152.9,121.3 153.3,122.8 153.7,124.2 154.1,125.7 154.5,127.1 154.9,128.6 155.3,130.0 155.7,131.5 156.1,132.9 156.5,134.4 156.9,135.8 157.3,137.2 157.7,138.7 158.1,140.1 158.5,141.6 159.0,143.0 159.4,144.5 159.8,145.9 160.2,147.4 160.6,148.8 161.0,150.2 161.4,151.7 161.8,153.1 162.2,154.6 162.6,156.0 163.0,157.5 163.4,158.9 163.8,160.4 164.2,161.8 164.6,163.3 165.0,164.7 165.4,166.1 165.8,167.6 166.2,169.0 166.6,170.5 167.0,171.9 167.4,173.4 167.8,174.8 168.2,176.3 168.6,177.7 169.0,179.2 169.4,180.6 169.8,182.0 170.2,183.5 170.6,184.9 171.0,186.4 171.4,187.8 171.8,189.3 172.2,190.7 172.6,192.2 173.0,193.6 173.4,195.1 173.8,196.5 174.2,197.9 174.6,199.4 175.0,200.8 175.5,202.3 175.9,203.7 176.3,205.2 176.7,206.6 177.1,208.1 177.5,209.5 177.9,211.0 178.3,212.4 178.7,213.8 179.1,215.3 179.5,216.7 179.9,218.2 180.3,219.6 180.7,221.1 181.1,222.5 181.5,224.0 181.9,225.4 182.3,226.8 182.7,228.3 183.1,229.7 183.5,231.2 183.9,232.6 184.3,234.1 184.7,235.5 185.1,237.0 185.5,238.4 185.9,239.9 186.3,241.3 186.7,242.7 187.1,244.2 187.5,245.6 187.9,247.1 188.3,248.5 188.7,250.0 189.1,251.4 189.5,252.9 189.9,254.3 190.3,255.8 190.7,257.2 191.1,258.6 191.5,260.1 192.0,261.5 192.4,263.0 192.8,264.4 193.2,265.9 193.6,267.3 194.0,268.8 194.4,270.2 194.8,271.7 195.2,273.1 195.6,274.5 196.0,276.0 196.4,277.4 196.8,278.9 197.2,280.3 197.6,281.8 198.0,283.2 198.4,284.7 198.8,286.1 199.2,287.6 199.6,289.0 200.0,290.4 200.4,291.9 200.8,293.3 201.2,294.8 201.6,296.2 202.0,297.7 202.4,299.1 202.8,300.6 203.2,302.0 203.6,303.5 204.0,304.9 204.4,306.3 204.8,307.8 205.2,309.2 205.6,310.7 206.0,312.1 206.4,313.6 206.8,315.0 207.2,316.5 207.6,317.9 208.1,319.3 208.5,320.8 208.9,322.2 209.3,323.7 209.7,325.1 210.1,326.6 210.5,328.0 210.9,329.5 211.3,330.9 211.7,332.4 212.1,333.8 212.5,335.2 212.9,336.7 213.3,338.1 213.7,339.6 214.1,341.0 214.5,342.5 214.9,343.9 215.3,345.4 215.7,346.8 216.1,348.3 216.5,349.7 216.9,351.1 217.4,352.6 217.8,354.0 218.3,355.4 218.8,356.8 219.3,358.2 219.8,359.7 220.3,361.1 220.8,362.5 221.3,363.9 221.8,365.3 222.3,366.7 222.8,368.1 223.3,369.6 223.8,371.0 224.3,372.4 224.8,373.8 225.3,375.2 225.8,376.6 226.3,378.0 226.8,379.5 227.5,380.8 228.2,382.1 228.9,383.4 229.7,384.7 230.4,386.0 231.2,387.3 231.9,388.6 232.6,390.0 233.4,391.3 234.1,392.6 234.8,393.9 235.6,395.2 236.3,396.5 237.1,397.8 237.8,399.1 238.5,400.4 239.3,401.7 240.0,403.0 240.8,404.3 241.5,405.6 242.3,406.9 243.1,408.2 243.8,409.5 244.6,410.8 245.3,412.1 246.1,413.4 246.9,414.7 247.6,415.9 248.4,417.2 249.1,418.5 250.0,419.8 251.0,420.9 252.1,421.9 253.2,422.9 254.3,423.9 255.4,424.9 256.5,425.9 257.6,427.0 258.7,428.0 259.8,429.0 260.9,430.0 262.1,431.0 263.3,431.8 264.6,432.5 265.9,433.2 267.2,434.0 268.5,434.7 269.8,435.5 271.1,436.2 272.4,437.0 273.7,437.7 275.1,438.4 276.4,439.0 277.9,439.4 279.3,439.7 280.8,440.0 282.3,440.3 283.7,440.7 285.2,441.0 286.7,441.3 288.1,441.6 289.6,441.8 291.1,441.9 292.6,441.8 294.1,441.7 295.6,441.6 297.1,441.5 298.6,441.4 300.1,441.3 301.6,441.2 303.0,441.0 304.5,440.7 305.9,440.2 307.2,439.6 308.6,438.9 310.0,438.3 311.4,437.7 312.6,437.0 313.7,436.0 314.6,434.8 315.5,433.6 316.4,432.4 317.2,431.2 318.1,430.0 319.0,428.7 319.9,427.5 320.7,426.3 321.5,425.0 322.2,423.7 322.9,422.4 323.6,421.1 324.3,419.7 325.1,418.4 325.8,417.1 326.5,415.8 327.2,414.4 327.9,413.1 328.6,411.8 329.2,410.4 329.9,409.1 330.5,407.7 331.1,406.3 331.7,405.0 332.3,403.6 332.9,402.2 333.5,400.8 334.1,399.5 334.7,398.1 335.3,396.7 336.0,395.4 336.6,394.0 337.1,392.6 337.7,391.2 338.3,389.8 338.8,388.4 339.4,387.0 339.9,385.6 340.5,384.3 341.1,382.9 341.6,381.5 342.2,380.1 342.7,378.7 343.3,377.3 343.8,375.9 344.4,374.5 345.0,373.1 345.5,371.7 346.1,370.4 346.7,369.0 347.3,367.6 347.9,366.2 348.5,364.8 349.1,363.5 349.7,362.1 350.3,360.7 350.9,359.3 351.6,358.0 352.3,356.7 353.0,355.4 353.7,354.0 354.4,352.7 355.2,351.4 355.9,350.1 356.6,348.8 357.3,347.5 358.0,346.1 358.7,344.8 359.2,343.4 359.7,342.0 360.2,340.6 360.7,339.2 361.2,337.7 361.7,336.3 362.2,334.9 362.7,333.5 363.1,332.1 363.6,330.6 364.1,329.2 364.6,327.8 365.1,326.4 365.6,325.0 366.0,323.5 366.5,322.1 367.0,320.7 367.5,319.3 367.9,317.8 368.4,316.4 368.9,315.0 369.3,313.6 369.8,312.1 370.3,310.7 370.7,309.3 371.2,307.9 371.7,306.4 372.1,305.0 372.6,303.6 373.0,302.1 373.5,300.7 373.9,299.3 374.4,297.9 374.8,296.4 375.3,295.0 375.7,293.6 376.2,292.1 376.6,290.7 377.1,289.3 377.5,287.8 377.9,286.4 378.4,285.0 378.8,283.5 379.3,282.1 379.7,280.6 380.1,279.2 380.5,277.8 381.0,276.3 381.4,274.9 381.8,273.5 382.3,272.0 382.7,270.6 383.1,269.1 383.5,267.7 383.9,266.3 384.4,264.8 384.8,263.4 385.2,261.9 385.6,260.5 386.0,259.1 386.4,257.6 386.8,256.2 387.2,254.7 387.6,253.3 388.0,251.8 388.4,250.4 388.8,248.9 389.2,247.5 389.6,246.0 390.0,244.6 390.4,243.2 390.8,241.7 391.2,240.3 391.6,238.8 392.0,237.4 392.4,235.9 392.8,234.5 393.2,233.0 393.5,231.6 393.9,230.1 394.3,228.7 394.7,227.2 395.0,225.8 395.4,224.3 395.8,222.8 396.2,221.4 396.5,219.9 396.9,218.5 397.3,217.0 397.6,215.6 398.0,214.1 398.4,212.7 398.7,211.2 399.1,209.7 399.4,208.3 399.8,206.8 400.1,205.4 400.5,203.9 400.9,202.5 401.2,201.0" fill="none" stroke="#000" stroke-width="4.0" stroke-dasharray="4 5.5"/>
<path d="M174.9,93.0L175.3,94.5 175.7,95.9 176.1,97.4 176.5,98.8 176.9,100.3 177.3,101.7 177.6,103.2 178.0,104.6 178.4,106.1 178.8,107.5 179.2,109.0 179.6,110.5 180.0,111.9 180.4,113.4 180.8,114.8 181.2,116.3 181.6,117.7 181.9,119.2 182.3,120.6 182.7,122.1 183.1,123.6 183.5,125.0 183.9,126.5 184.3,127.9 184.6,129.4 185.0,130.8 185.4,132.3 185.8,133.8 186.2,135.2 186.6,136.7 186.9,138.1 187.3,139.6 187.7,141.0 188.1,142.5 188.5,144.0 188.8,145.4 189.2,146.9 189.6,148.3 190.0,149.8 190.4,151.3 190.7,152.7 191.1,154.2 191.5,155.6 191.9,157.1 192.2,158.5 192.6,160.0 193.0,161.5 193.4,162.9 193.7,164.4 194.1,165.8 194.5,167.3 194.9,168.8 195.2,170.2 195.6,171.7 196.0,173.1 196.3,174.6 196.7,176.1 197.1,177.5 197.5,179.0 197.8,180.5 198.2,181.9 198.6,183.4 198.9,184.8 199.3,186.3 199.7,187.8 200.0,189.2 200.4,190.7 200.8,192.1 201.1,193.6 201.5,195.1 201.9,196.5 202.2,198.0 202.6,199.5 202.9,200.9 203.3,202.4 203.7,203.8 204.0,205.3 204.4,206.8 204.7,208.2 205.1,209.7 205.5,211.2 205.8,212.6 206.2,214.1 206.5,215.5 206.9,217.0 207.3,218.5 207.6,219.9 208.0,221.4 208.3,222.9 208.7,224.3 209.0,225.8 209.4,227.3 209.7,228.7 210.1,230.2 210.4,231.7 210.8,233.1 211.1,234.6 211.5,236.1 211.9,237.5 212.2,239.0 212.6,240.4 212.9,241.9 213.3,243.4 213.6,244.8 213.9,246.3 214.3,247.8 214.6,249.2 215.0,250.7 215.3,252.2 215.7,253.6 216.0,255.1 216.4,256.6 216.7,258.0 217.1,259.5 217.4,261.0 217.7,262.4 218.1,263.9 218.4,265.4 218.8,266.8 219.1,268.3 219.5,269.8 219.8,271.3 220.1,272.7 220.5,274.2 220.8,275.7 221.2,277.1 221.5,278.6 221.8,280.1 222.2,281.5 222.5,283.0 222.8,284.5 223.2,285.9 223.5,287.4 223.8,288.9 224.2,290.3 224.5,291.8 224.8,293.3 225.2,294.8 225.5,296.2 225.8,297.7 226.2,299.2 226.5,300.6 226.8,302.1 227.2,303.6 227.5,305.0 227.8,306.5 228.1,308.0 228.5,309.5 228.8,310.9 229.1,312.4 229.5,313.9 229.8,315.3 230.1,316.8 230.4,318.3 230.8,319.8 231.1,321.2 231.4,322.7 231.7,324.2 232.1,325.6 232.4,327.1 232.7,328.6 233.0,330.1 233.3,331.5 233.7,333.0" fill="none" stroke="#000" stroke-width="4.0" stroke-dasharray="4 5.5"/>
<path d="M409.7,88.0L409.3,89.4 408.9,90.9 408.4,92.3 408.0,93.8 407.5,95.2 407.1,96.7 406.7,98.1 406.2,99.5 405.8,101.0 405.4,102.4 404.9,103.9 404.5,105.3 404.1,106.8 403.6,108.2 403.2,109.7 402.8,111.1 402.3,112.5 401.9,114.0 401.5,115.4 401.1,116.9 400.6,118.3 400.2,119.8 399.8,121.2 399.3,122.7 398.9,124.1 398.5,125.5 398.0,127.0 397.6,128.4 397.2,129.9 396.8,131.3 396.3,132.8 395.9,134.2 395.5,135.7 395.0,137.1 394.6,138.6 394.2,140.0 393.8,141.5 393.3,142.9 392.9,144.3 392.5,145.8 392.1,147.2 391.6,148.7 391.2,150.1 390.8,151.6 390.4,153.0 389.9,154.5 389.5,155.9 389.1,157.4 388.7,158.8 388.3,160.3 387.8,161.7 387.4,163.2 387.0,164.6 386.6,166.0 386.1,167.5 385.7,168.9 385.3,170.4 384.9,171.8 384.5,173.3 384.0,174.7 383.6,176.2 383.2,177.6 382.8,179.1 382.4,180.5 382.0,182.0 381.5,183.4 381.1,184.9 380.7,186.3 380.3,187.8 379.9,189.2 379.5,190.7 379.0,192.1 378.6,193.6 378.2,195.0 377.8,196.5 377.4,197.9 377.0,199.4 376.5,200.8 376.1,202.3 375.7,203.7 375.3,205.2 374.9,206.6 374.5,208.1 374.1,209.5 373.7,211.0 373.2,212.4 372.8,213.9 372.4,215.3 372.0,216.8 371.6,218.2 371.2,219.7 370.8,221.1 370.4,222.6 370.0,224.0 369.5,225.5 369.1,226.9 368.7,228.4 368.3,229.8 367.9,231.3 367.5,232.7 367.1,234.2 366.7,235.6 366.3,237.1 365.9,238.5 365.5,240.0 365.1,241.4 364.6,242.9 364.2,244.3 363.8,245.8 363.4,247.2 363.0,248.7 362.6,250.1 362.2,251.6 361.8,253.0 361.4,254.5 361.0,256.0 360.6,257.4 360.2,258.9 359.8,260.3 359.4,261.8 359.0,263.2 358.6,264.7 358.2,266.1 357.8,267.6 357.4,269.0 357.0,270.5 356.6,271.9 356.2,273.4 355.8,274.8 355.4,276.3 355.0,277.8 354.6,279.2 354.2,280.7 353.8,282.1 353.4,283.6 353.0,285.0 352.6,286.5 352.2,287.9 351.8,289.4 351.4,290.8 351.0,292.3 350.6,293.8 350.2,295.2 349.8,296.7 349.4,298.1 349.0,299.6 348.6,301.0 348.2,302.5 347.9,303.9 347.5,305.4 347.1,306.8 346.7,308.3 346.3,309.8 345.9,311.2 345.5,312.7 345.1,314.1 344.7,315.6 344.3,317.0 343.9,318.5 343.5,319.9 343.1,321.4 342.8,322.9 342.4,324.3 342.0,325.8 341.6,327.2 341.2,328.7 340.8,330.1 340.4,331.6 340.0,333.1 339.6,334.5 339.3,336.0 338.9,337.4 338.5,338.9 338.1,340.3 337.7,341.8 337.3,343.3 336.9,344.7 336.6,346.2 336.2,347.6 335.8,349.1 335.4,350.5 335.0,352.0" fill="none" stroke="#000" stroke-width="4.0" stroke-dasharray="4 5.5"/>
<path d="M408.0,95.0L408.6,93.6 409.1,92.2 409.7,90.8 410.2,89.4 410.8,88.0 411.3,86.6 411.9,85.1 412.4,83.7 413.0,82.4 413.7,81.0 414.3,79.6 415.0,78.3 415.7,76.9 416.4,75.6 417.1,74.2 417.7,72.9 418.4,71.5 419.1,70.2 419.8,68.8 420.4,67.5 421.1,66.1 421.8,64.8 422.5,63.4 423.3,62.2 424.2,61.0 425.1,59.8 426.1,58.6 427.0,57.4 428.0,56.2 428.9,55.1 429.9,53.9 430.8,52.7 431.8,51.5 432.7,50.3 433.6,49.2 434.6,48.0 435.7,47.0 436.8,46.1 438.1,45.3 439.5,44.8 440.9,44.4 442.3,44.4 443.8,44.5 445.3,44.8 446.8,45.1 448.2,45.4 449.7,45.8 451.2,46.2 452.6,46.6 454.0,47.1 455.4,47.7 456.6,48.4 457.7,49.4 458.6,50.5 459.5,51.8 460.3,53.0 461.1,54.3 461.9,55.6 462.7,56.9 463.5,58.1 464.3,59.4 465.1,60.7 465.9,62.0 466.6,63.3 467.4,64.6 468.2,65.9 468.9,67.2 469.7,68.5 470.5,69.8 471.3,71.1 472.0,72.4 472.8,73.7 473.6,75.0 474.5,76.2 475.4,77.4 476.4,78.6 477.4,79.7 478.5,80.7 479.5,81.9 480.4,83.0 481.2,84.3 482.0,85.6 482.8,86.8 483.6,88.1 484.4,89.4 485.2,90.7 486.0,92.0" fill="none" stroke="#000" stroke-width="4.0" stroke-dasharray="4 4.5"/>
<path d="M408.6,95.0L409.2,93.6 409.8,92.2 410.4,90.9 411.0,89.5 411.6,88.1 412.2,86.7 412.8,85.3 413.5,84.0 414.1,82.6 414.8,81.3 415.6,80.0 416.3,78.7 417.1,77.4 417.8,76.1 418.6,74.8 419.3,73.5 420.1,72.2 420.8,70.8 421.6,69.5 422.3,68.2 423.1,67.0 424.0,65.7 424.9,64.5 425.9,63.4 426.9,62.3 427.9,61.2 428.9,60.1 429.9,58.9 430.9,57.8 432.0,56.7 433.0,55.6 434.0,54.5 435.0,53.4 436.1,52.3 437.3,51.5 438.5,50.7 439.9,50.2 441.3,49.8 442.8,49.8 444.2,49.9 445.7,50.1 447.2,50.4 448.7,50.7 450.1,51.0 451.6,51.4 453.0,51.9 454.4,52.3 455.8,52.9 457.0,53.8 458.0,54.8 458.9,55.9 459.8,57.2 460.7,58.4 461.6,59.6 462.5,60.8 463.4,62.0 464.3,63.2 465.1,64.5 466.0,65.7 466.8,67.0 467.7,68.2 468.5,69.5 469.3,70.7 470.2,72.0 471.0,73.2 471.9,74.5 472.7,75.7 473.6,76.9 474.5,78.1 475.5,79.3 476.5,80.4 477.5,81.5 478.6,82.5 479.6,83.7 480.5,84.9 481.3,86.1 482.1,87.4 483.0,88.6 483.8,89.9 484.6,91.2 485.4,92.4" fill="none" stroke="#000" stroke-width="4.0" stroke-dasharray="4 4.5"/>
<path d="M409.1,95.0L409.8,93.7 410.5,92.3 411.2,91.0 411.8,89.6 412.5,88.3 413.2,86.9 413.9,85.6 414.6,84.2 415.3,82.9 416.1,81.7 416.9,80.4 417.8,79.1 418.6,77.9 419.5,76.6 420.3,75.4 421.1,74.2 422.0,72.9 422.8,71.7 423.7,70.4 424.6,69.2 425.6,68.1 426.6,67.0 427.7,66.0 428.8,64.9 429.9,63.9 430.9,62.8 432.0,61.8 433.1,60.7 434.2,59.7 435.3,58.7 436.4,57.7 437.6,56.8 438.9,56.1 440.3,55.6 441.7,55.3 443.2,55.2 444.6,55.3 446.1,55.5 447.6,55.7 449.1,56.0 450.6,56.3 452.0,56.7 453.5,57.1 454.8,57.6 456.1,58.3 457.3,59.1 458.4,60.2 459.4,61.3 460.3,62.4 461.3,63.6 462.3,64.7 463.3,65.8 464.3,67.0 465.2,68.2 466.2,69.3 467.1,70.5 468.0,71.7 468.9,72.9 469.8,74.1 470.7,75.3 471.7,76.5 472.6,77.7 473.5,78.9 474.5,80.0 475.5,81.1 476.6,82.2 477.7,83.2 478.7,84.3 479.6,85.5 480.5,86.7 481.4,87.9 482.3,89.1 483.1,90.4 484.0,91.6 484.9,92.9" fill="none" stroke="#000" stroke-width="4.0" stroke-dasharray="4 2.8"/>
<path d="M409.7,95.0L410.5,93.7 411.2,92.4 412.0,91.1 412.7,89.7 413.5,88.4 414.2,87.1 415.0,85.8 415.8,84.6 416.6,83.3 417.5,82.1 418.4,80.9 419.4,79.7 420.3,78.5 421.3,77.4 422.2,76.2 423.2,75.0 424.1,73.8 425.1,72.7 426.2,71.6 427.3,70.6 428.4,69.6 429.6,68.7 430.8,67.7 432.0,66.8 433.1,65.8 434.3,64.9 435.5,63.9 436.7,63.0 437.9,62.2 439.2,61.5 440.6,61.0 442.1,60.7 443.5,60.6 445.0,60.6 446.5,60.8 448.0,61.0 449.5,61.2 451.0,61.5 452.5,61.9 453.9,62.3 455.3,62.8 456.5,63.6 457.7,64.5 458.8,65.5 459.9,66.5 461.0,67.5 462.1,68.6 463.2,69.6 464.3,70.7 465.4,71.8 466.4,72.9 467.4,74.0 468.4,75.1 469.4,76.3 470.4,77.4 471.4,78.5 472.5,79.6 473.5,80.7 474.5,81.8 475.6,82.9 476.7,83.9 477.8,85.0 478.8,86.1 479.7,87.3 480.7,88.4 481.6,89.7 482.5,90.9 483.4,92.1 484.3,93.3" fill="none" stroke="#000" stroke-width="4.0" stroke-dasharray="4 2.8"/>
<path d="M410.3,95.0L411.1,93.7 411.9,92.5 412.8,91.2 413.6,90.0 414.4,88.7 415.3,87.5 416.1,86.3 417.0,85.1 418.0,83.9 419.0,82.8 420.0,81.7 421.1,80.6 422.1,79.5 423.2,78.5 424.2,77.4 425.3,76.4 426.4,75.3 427.6,74.4 428.8,73.5 430.0,72.7 431.3,71.8 432.5,71.0 433.8,70.2 435.0,69.4 436.3,68.6 437.6,67.8 438.9,67.1 440.3,66.5 441.7,66.2 443.2,66.0 444.6,65.9 446.1,66.0 447.6,66.2 449.1,66.4 450.6,66.6 452.1,66.9 453.5,67.2 454.9,67.7 456.3,68.4 457.5,69.1 458.7,70.0 460.0,70.9 461.2,71.8 462.4,72.7 463.5,73.6 464.7,74.6 465.8,75.5 467.0,76.6 468.1,77.6 469.2,78.6 470.3,79.6 471.4,80.6 472.5,81.7 473.6,82.7 474.7,83.7 475.8,84.7 476.9,85.7 477.9,86.8 478.9,87.9 479.9,89.1 480.9,90.2 481.8,91.4 482.8,92.5 483.7,93.7" fill="none" stroke="#000" stroke-width="4.0" stroke-dasharray="4 2.8"/>
<path d="M410.9,95.0L411.8,93.8 412.7,92.6 413.6,91.4 414.5,90.2 415.5,89.1 416.4,87.9 417.4,86.7 418.4,85.6 419.5,84.6 420.6,83.6 421.8,82.7 423.0,81.7 424.1,80.8 425.3,79.9 426.5,79.0 427.8,78.1 429.0,77.3 430.4,76.6 431.7,75.9 433.0,75.2 434.4,74.6 435.7,73.9 437.1,73.2 438.4,72.6 439.8,72.1 441.3,71.7 442.7,71.4 444.2,71.3 445.7,71.3 447.2,71.4 448.7,71.5 450.2,71.7 451.7,71.9 453.2,72.2 454.6,72.6 456.0,73.1 457.4,73.8 458.7,74.5 460.0,75.2 461.3,75.9 462.6,76.7 463.9,77.4 465.2,78.3 466.4,79.1 467.6,80.0 468.8,80.9 470.0,81.8 471.2,82.7 472.4,83.6 473.6,84.5 474.8,85.5 475.9,86.5 477.0,87.5 478.1,88.6 479.1,89.7 480.1,90.8 481.1,91.9 482.1,93.0 483.1,94.1" fill="none" stroke="#000" stroke-width="4.0" stroke-dasharray="4 2.8"/>
<path d="M411.4,95.0L412.5,93.9 413.5,92.8 414.5,91.6 415.6,90.5 416.6,89.4 417.7,88.3 418.8,87.3 420.0,86.4 421.2,85.5 422.5,84.7 423.8,83.9 425.2,83.1 426.5,82.4 427.8,81.6 429.2,81.0 430.6,80.4 432.0,79.8 433.4,79.3 434.9,78.8 436.3,78.4 437.8,77.9 439.2,77.4 440.7,77.1 442.2,76.8 443.7,76.7 445.2,76.7 446.8,76.7 448.3,76.7 449.8,76.8 451.3,77.0 452.8,77.2 454.3,77.5 455.8,77.9 457.2,78.4 458.7,78.8 460.1,79.4 461.5,79.9 463.0,80.4 464.4,81.0 465.7,81.7 467.1,82.5 468.4,83.2 469.7,84.0 471.0,84.7 472.3,85.5 473.6,86.3 474.8,87.2 476.0,88.2 477.1,89.2 478.2,90.3 479.3,91.3 480.4,92.4 481.5,93.5 482.6,94.6" fill="none" stroke="#000" stroke-width="4.0" stroke-dasharray="4 2.8"/>
<path d="M412.0,95.0L413.1,94.0 414.3,93.0 415.4,92.0 416.6,91.0 417.7,90.0 418.9,89.1 420.1,88.3 421.4,87.5 422.8,86.9 424.2,86.3 425.6,85.8 427.0,85.2 428.4,84.7 429.8,84.2 431.3,83.8 432.8,83.5 434.3,83.2 435.7,83.0 437.2,82.7 438.7,82.4 440.2,82.2 441.7,82.1 443.2,82.0 444.7,82.0 446.2,82.0 447.7,82.0 449.3,82.0 450.8,82.1 452.3,82.2 453.8,82.3 455.3,82.6 456.8,82.8 458.2,83.0 459.7,83.3 461.2,83.6 462.7,83.9 464.2,84.2 465.6,84.7 467.0,85.2 468.4,85.8 469.8,86.3 471.2,86.9 472.6,87.5 473.9,88.3 475.1,89.1 476.3,90.0 477.4,91.0 478.6,92.0 479.7,93.0 480.9,94.0 482.0,95.0" fill="none" stroke="#000" stroke-width="4.0" stroke-dasharray="4 2.8"/>
<path d="M412.0,83.0L413.5,82.8 415.0,82.7 416.5,82.5 418.0,82.3 419.5,82.1 421.0,82.0 422.5,81.8 424.0,81.7 425.5,81.6 427.0,81.7 428.5,81.7 430.1,81.8 431.6,81.9 433.1,82.0 434.6,82.1 436.1,82.2 437.6,82.3 439.1,82.5 440.6,82.6 442.1,82.7 443.6,82.9 445.1,83.0 446.6,83.2 448.2,83.3 449.7,83.5 451.2,83.6 452.7,83.8 454.2,83.9 455.7,84.1 457.2,84.4 458.7,84.6 460.1,84.9 461.6,85.1 463.1,85.4 464.6,85.6 466.1,85.9 467.6,86.1 469.1,86.4 470.6,86.6 472.1,86.9 473.6,87.1 475.1,87.4 476.6,87.7 478.0,87.9 479.5,88.2 481.0,88.5 482.5,88.7 484.0,89.0" fill="none" stroke="#ff0000" stroke-width="3.2"/>
<path d="M91.2,76.0L91.9,74.7 92.5,73.3 93.1,71.9 93.6,70.4 94.1,69.0 94.5,67.6 95.0,66.1 95.5,64.7 95.9,63.2 96.3,61.8 96.6,60.3 97.0,58.8 97.4,57.4 97.9,55.9 98.3,54.5 98.9,53.1 99.4,51.6 100.0,50.2 100.5,48.8 101.1,47.4 101.7,46.0 102.3,44.6 102.9,43.2 103.5,41.9 104.1,40.5 104.7,39.1 105.3,37.7 105.9,36.3 106.5,34.9 107.1,33.5 107.7,32.1 108.3,30.7 108.9,29.3 109.5,27.9 110.1,26.6 110.8,25.2 111.4,23.8 112.1,22.5 112.8,21.1 113.6,19.9 114.4,18.6 115.3,17.3 116.1,16.1 117.0,14.8 117.9,13.6 119.0,12.6 120.1,11.5 121.2,10.5 122.4,9.6 123.6,8.7 124.9,8.0 126.3,7.5 127.7,7.2 129.2,7.1 130.7,7.1 132.1,7.4 133.4,8.0 134.6,8.8 135.7,9.8 136.8,10.8 137.8,11.9 138.9,13.0 139.9,14.2 140.8,15.4 141.7,16.6 142.6,17.8 143.4,19.1 144.3,20.3 145.1,21.6 145.9,22.9 146.7,24.2 147.5,25.5 148.2,26.8 148.9,28.1 149.6,29.5 150.3,30.8 150.9,32.2 151.5,33.6 152.1,35.0 152.7,36.4 153.3,37.8 153.8,39.2 154.4,40.6 155.0,42.0" fill="none" stroke="#000" stroke-width="4.0" stroke-dasharray="4 5.5"/>
<path d="M91.5,245.3L92.0,243.9 92.6,242.5 93.1,241.1 93.6,239.7 94.2,238.3 94.7,236.9 95.2,235.5 95.8,234.1 96.3,232.6 96.9,231.2 97.4,229.8 97.9,228.4 98.5,227.0 99.0,225.6 99.5,224.2 100.1,222.8 100.6,221.4 101.1,220.0 101.6,218.6 102.1,217.2 102.6,215.7 103.1,214.3 103.6,212.9 104.1,211.5 104.6,210.0 105.1,208.6 105.5,207.2 106.0,205.8 106.5,204.3 107.0,202.9 107.5,201.5 108.0,200.1 108.4,198.6 108.9,197.2 109.4,195.8 109.9,194.4 110.4,192.9 110.9,191.5 111.3,190.1 111.8,188.7 112.3,187.2 112.8,185.8 113.3,184.4 113.9,183.0 114.6,181.7 115.3,180.3 115.9,179.0 116.6,177.7 117.3,176.3 118.0,175.0 118.7,173.6 119.3,172.3 120.0,171.0 120.7,169.6 121.4,168.3 122.1,166.9 122.8,165.6 123.5,164.3 124.2,163.0 125.0,161.7 125.8,160.4 126.6,159.1 127.3,157.8 128.1,156.5 128.9,155.2 129.6,153.9 130.4,152.6 131.2,151.4 132.0,150.1 132.7,148.8 133.5,147.5 134.3,146.2 135.2,145.0 136.2,143.9 137.2,142.8 138.3,141.7 139.4,140.7 140.4,139.6 141.5,138.6 142.6,137.6 143.8,136.6 145.0,135.8 146.3,135.1 147.7,134.5 149.0,134.0 150.4,133.7 151.8,133.7 153.2,134.0 154.6,134.5 156.0,135.0" fill="none" stroke="#000" stroke-width="4.0" stroke-dasharray="4 5.5"/>
<path d="M399.8,195.5L400.3,194.1 400.7,192.6 401.2,191.2 401.6,189.8 402.1,188.3 402.5,186.9 403.0,185.5 403.4,184.1 403.9,182.6 404.3,181.2 404.8,179.8 405.3,178.3 405.8,176.9 406.3,175.5 406.8,174.1 407.4,172.7 408.0,171.3 408.6,170.0 409.2,168.6 409.8,167.2 410.3,165.8 410.9,164.4 411.5,163.1 412.1,161.7 412.7,160.3 413.3,158.9 413.9,157.5 414.4,156.1 415.0,154.7 415.6,153.3 416.1,152.0 416.7,150.6 417.3,149.2 417.8,147.8 418.4,146.4 419.0,145.0 419.5,143.6 420.1,142.2 420.7,140.9 421.3,139.5 422.0,138.1 422.6,136.8 423.3,135.5 424.0,134.1 424.7,132.8 425.4,131.4 426.1,130.1 426.8,128.8 427.4,127.4 428.1,126.1 428.9,124.8 429.6,123.5 430.5,122.3 431.3,121.0 432.2,119.8 433.1,118.6 434.0,117.4 434.9,116.2 435.9,115.2 437.0,114.3 438.3,113.6 439.7,112.9 441.0,112.4 442.4,111.9 443.9,111.7 445.4,111.6 446.8,111.6 448.3,111.7 449.8,111.9 451.2,112.4 452.6,112.9 453.8,113.6 454.9,114.5 455.8,115.6 456.6,116.9 457.4,118.2 458.1,119.5 458.9,120.7 459.7,122.0 460.4,123.3 461.2,124.6 462.0,125.9 462.7,127.2 463.5,128.5 464.1,129.8 464.8,131.2 465.3,132.6 465.8,134.0 466.3,135.4 466.8,136.8 467.3,138.3 467.8,139.7 468.3,141.1 468.8,142.5 469.3,143.9 469.8,145.4 470.2,146.8 470.7,148.2 471.2,149.6 471.7,151.0 472.2,152.4 472.7,153.9 473.2,155.3 473.7,156.7 474.2,158.1 474.6,159.6 475.0,161.0 475.4,162.5 475.8,163.9 476.2,165.4 476.5,166.8 476.9,168.3 477.3,169.7 477.7,171.2 478.1,172.6 478.5,174.1 478.8,175.5 479.2,177.0 479.6,178.4 480.0,179.9 480.4,181.3 480.8,182.8 481.2,184.2 481.7,185.6 482.2,187.0 482.8,188.4 483.3,189.8 483.8,191.3 484.4,192.7 484.9,194.1 485.4,195.5 485.9,196.9 486.5,198.3 487.0,199.7 487.5,201.1 488.1,202.5 488.6,203.9 489.1,205.3 489.7,206.7 490.3,208.1 490.9,209.5 491.5,210.8 492.0,212.2 492.6,213.6 493.2,215.0 493.8,216.4 494.4,217.8 494.9,219.1 495.5,220.5 496.1,221.9 496.7,223.3 497.3,224.7 497.8,226.1 498.4,227.5 499.0,228.9 499.5,230.3 500.0,231.7 500.6,233.1 501.1,234.5 501.6,235.9 502.2,237.3 502.7,238.7 503.2,240.1 503.8,241.5 504.3,242.9 504.8,244.3 505.4,245.7 505.9,247.1 506.4,248.5 507.0,249.9 507.6,251.3 508.1,252.7 508.7,254.1 509.3,255.4 509.9,256.8 510.5,258.2 511.0,259.6 511.6,261.0 512.2,262.4 512.8,263.8 513.4,265.1 514.0,266.5 514.5,267.9 515.1,269.3 515.7,270.7 516.4,272.0 517.1,273.3 517.9,274.6 518.7,275.9 519.5,277.2 520.3,278.4 521.1,279.7 521.8,281.0 522.6,282.2 523.4,283.5 524.2,284.8 525.0,286.1 525.8,287.3 526.6,288.6 527.4,289.9 528.2,291.2 529.0,292.4 529.9,293.7 530.8,294.8 531.8,295.9 532.9,296.8 534.1,297.7 535.4,298.5 536.6,299.4 537.9,300.2 539.1,301.0 540.4,301.8 541.6,302.6 542.9,303.3 544.2,303.7 545.6,303.8 547.0,303.5 548.4,303.1 549.8,302.6 551.2,302.0 552.4,301.2 553.5,300.3 554.5,299.2 555.5,298.1 556.5,297.0 557.5,295.9 558.5,294.7 559.5,293.6 560.4,292.4 561.3,291.2 562.1,289.9 562.8,288.6 563.6,287.3 564.4,286.0 565.2,284.8 565.9,283.5 566.7,282.2 567.4,280.9 568.2,279.6 568.9,278.2 569.6,276.9 570.2,275.6 570.9,274.2 571.6,272.9 572.3,271.6 573.0,270.2 573.6,268.9 574.3,267.5 575.0,266.2" fill="none" stroke="#000" stroke-width="4.0" stroke-dasharray="4 5.5"/>
<path d="M486.0,96.0L487.1,97.1 488.1,98.1 489.2,99.2 490.2,100.4 491.2,101.5 492.2,102.6 493.1,103.8 494.1,105.0 495.1,106.1 496.0,107.3 497.0,108.4 498.0,109.6 498.9,110.8 499.8,112.0 500.7,113.2 501.6,114.4 502.5,115.6 503.4,116.9 504.2,118.1 505.1,119.3 506.0,120.6 506.9,121.8 507.7,123.0 508.6,124.3 509.4,125.6 510.2,126.9 510.9,128.2 511.6,129.5 512.4,130.8 513.1,132.1 513.9,133.5 514.6,134.8 515.3,136.1 516.1,137.4 516.8,138.7 517.5,140.1 518.3,141.4 519.1,142.6 519.9,143.9 520.7,145.2 521.6,146.4 522.5,147.6 523.4,148.9 524.2,150.1 525.1,151.3 526.0,152.6 526.9,153.8 527.8,155.0 528.8,156.0 529.9,157.0 531.2,157.8 532.5,158.6 533.8,159.4 535.1,160.1 536.4,160.8 537.7,161.4 539.1,161.8 540.6,161.9 542.1,161.9 543.6,161.7 545.1,161.6 546.5,161.4 548.0,161.1 549.4,160.6 550.8,160.0 552.1,159.4 553.5,158.7 554.9,158.0 556.2,157.3 557.5,156.6 558.7,155.7 559.8,154.7 560.9,153.7 562.0,152.6 563.0,151.5 564.1,150.5 565.1,149.4 566.2,148.3 567.2,147.2 568.2,146.1 569.2,144.9 570.2,143.8 571.1,142.6 572.1,141.4 573.0,140.2 574.0,139.0 574.9,137.8 575.7,136.6 576.5,135.3 577.3,134.0 578.1,132.7 578.8,131.4 579.5,130.1 580.3,128.8 581.0,127.5 581.8,126.2 582.5,124.8 583.2,123.5 583.9,122.2 584.6,120.8 585.3,119.5 585.9,118.1 586.6,116.8 587.3,115.4 588.0,114.1 588.6,112.7 589.3,111.4 590.0,110.0" fill="none" stroke="#000" stroke-width="4.0" stroke-dasharray="4 5.5"/>
</g>
<rect x="87" y="1.4" width="529.5" height="473.6" fill="none" stroke="#000" stroke-width="1.9"/>
<g stroke="#000" stroke-width="1.9">
<line x1="87" y1="29.2" x2="95" y2="29.2"/>
<line x1="87" y1="137.45" x2="95" y2="137.45"/>
<line x1="87" y1="245.7" x2="95" y2="245.7"/>
<line x1="87" y1="353.95" x2="95" y2="353.95"/>
<line x1="87" y1="462.2" x2="95" y2="462.2"/>
<line x1="91.5" y1="475" x2="91.5" y2="467"/>
<line x1="238.5" y1="475" x2="238.5" y2="467"/>
<line x1="385.5" y1="475" x2="385.5" y2="467"/>
<line x1="532.5" y1="475" x2="532.5" y2="467"/>
</g>
<g font-size="36.5" text-anchor="end">
<text x="78" y="40.7">40</text>
<text x="78" y="149">30</text>
<text x="78" y="257.2">20</text>
<text x="78" y="365.5">10</text>
<text x="78" y="473.7">0</text>
</g>
<g font-size="36.5" text-anchor="middle">
<text x="91.5" y="508">0.0</text>
<text x="238.5" y="508">0.2</text>
<text x="384.5" y="508">0.4</text>
<text x="531" y="508">0.6</text>
<text x="351.8" y="549.9" textLength="152.8" lengthAdjust="spacing">Time [sec]</text>
<text transform="translate(26.2,238.6) rotate(-90)" x="0" y="0" textLength="373.7" lengthAdjust="spacing">SS elongation value [mm]</text>
</g>
<line x1="17.5" y1="592" x2="88" y2="592" stroke="#000" stroke-width="3.6" stroke-dasharray="3.5 6"/>
<line x1="353" y1="592.3" x2="428.5" y2="592.3" stroke="#ff0000" stroke-width="4"/>
<g font-size="36.5">
<text x="117.5" y="605.3" textLength="166.6" lengthAdjust="spacing">Experiment</text>
<text x="455" y="604.8" textLength="234.6" lengthAdjust="spacing">Proposed model</text>
</g>
</svg>
</body></html>
